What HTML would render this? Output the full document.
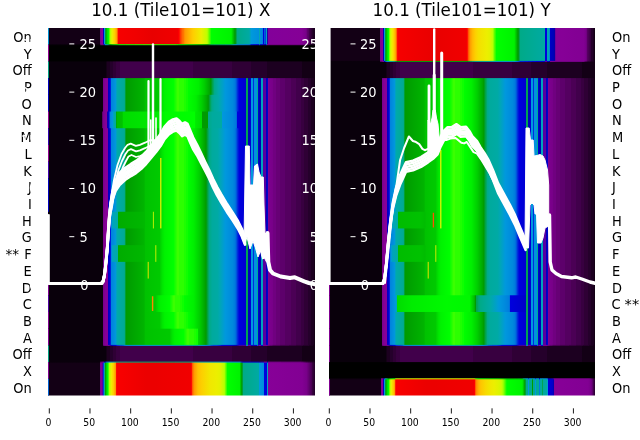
<!DOCTYPE html>
<html><head><meta charset="utf-8"><title>10.1 (Tile101=101)</title>
<style>html,body{margin:0;padding:0;background:#fff;width:640px;height:440px;overflow:hidden}svg{display:block;will-change:transform}</style>
</head><body><svg width="640" height="440" viewBox="0 0 640 440" font-family="DejaVu Sans, Liberation Sans, sans-serif"><defs><linearGradient id="gLON" gradientUnits="userSpaceOnUse" x1="48.00" y1="0" x2="315.00" y2="0"><stop offset="0.0000" stop-color="#130015"/><stop offset="0.1948" stop-color="#130015"/><stop offset="0.1957" stop-color="#380040"/><stop offset="0.1966" stop-color="#79008a"/><stop offset="0.2004" stop-color="#820093"/><stop offset="0.2051" stop-color="#870098"/><stop offset="0.2060" stop-color="#58009f"/><stop offset="0.2069" stop-color="#0d00a8"/><stop offset="0.2079" stop-color="#0000bd"/><stop offset="0.2088" stop-color="#0000d5"/><stop offset="0.2097" stop-color="#0041dd"/><stop offset="0.2107" stop-color="#0082dd"/><stop offset="0.2116" stop-color="#009adb"/><stop offset="0.2125" stop-color="#00a6b7"/><stop offset="0.2135" stop-color="#00aa98"/><stop offset="0.2163" stop-color="#009a00"/><stop offset="0.2228" stop-color="#00e200"/><stop offset="0.2275" stop-color="#00ff00"/><stop offset="0.2285" stop-color="#2cff00"/><stop offset="0.2303" stop-color="#67ff00"/><stop offset="0.2313" stop-color="#75ff00"/><stop offset="0.2331" stop-color="#b0ff00"/><stop offset="0.2369" stop-color="#d4f700"/><stop offset="0.2406" stop-color="#ecef00"/><stop offset="0.2500" stop-color="#ffcd00"/><stop offset="0.2566" stop-color="#ffa500"/><stop offset="0.2575" stop-color="#ff9d00"/><stop offset="0.2584" stop-color="#ff8d00"/><stop offset="0.2640" stop-color="#fe0000"/><stop offset="0.2669" stop-color="#f60000"/><stop offset="0.3277" stop-color="#f10000"/><stop offset="0.3904" stop-color="#e90000"/><stop offset="0.4850" stop-color="#f10000"/><stop offset="0.4897" stop-color="#fe0000"/><stop offset="0.4906" stop-color="#ff0900"/><stop offset="0.4916" stop-color="#ff0900"/><stop offset="0.4953" stop-color="#ff3900"/><stop offset="0.4963" stop-color="#ff3900"/><stop offset="0.4972" stop-color="#ff4500"/><stop offset="0.4981" stop-color="#ff4500"/><stop offset="0.4991" stop-color="#ff5100"/><stop offset="0.5009" stop-color="#ff5100"/><stop offset="0.5019" stop-color="#ff5d00"/><stop offset="0.5028" stop-color="#ff5d00"/><stop offset="0.5037" stop-color="#ff6900"/><stop offset="0.5047" stop-color="#ff6900"/><stop offset="0.5056" stop-color="#ff7500"/><stop offset="0.5075" stop-color="#ff7500"/><stop offset="0.5084" stop-color="#ff8100"/><stop offset="0.5094" stop-color="#ff8100"/><stop offset="0.5103" stop-color="#ff8d00"/><stop offset="0.5112" stop-color="#ff8d00"/><stop offset="0.5122" stop-color="#ff9900"/><stop offset="0.5159" stop-color="#ff9d00"/><stop offset="0.5197" stop-color="#ffa500"/><stop offset="0.5309" stop-color="#ffb900"/><stop offset="0.5431" stop-color="#ffcd00"/><stop offset="0.5740" stop-color="#ecef00"/><stop offset="0.5815" stop-color="#dcf400"/><stop offset="0.5918" stop-color="#c8fb00"/><stop offset="0.5964" stop-color="#bcff00"/><stop offset="0.6002" stop-color="#84ff00"/><stop offset="0.6011" stop-color="#84ff00"/><stop offset="0.6039" stop-color="#58ff00"/><stop offset="0.6049" stop-color="#58ff00"/><stop offset="0.6077" stop-color="#2cff00"/><stop offset="0.6086" stop-color="#2cff00"/><stop offset="0.6114" stop-color="#00ff00"/><stop offset="0.6863" stop-color="#00f200"/><stop offset="0.6985" stop-color="#00a400"/><stop offset="0.7004" stop-color="#009c00"/><stop offset="0.7022" stop-color="#009b13"/><stop offset="0.7032" stop-color="#009e28"/><stop offset="0.7041" stop-color="#009f33"/><stop offset="0.7051" stop-color="#00a248"/><stop offset="0.7060" stop-color="#00a353"/><stop offset="0.7069" stop-color="#00a668"/><stop offset="0.7079" stop-color="#00a773"/><stop offset="0.7088" stop-color="#00aa88"/><stop offset="0.7537" stop-color="#00aaa3"/><stop offset="0.7612" stop-color="#009adb"/><stop offset="0.7912" stop-color="#008ddd"/><stop offset="0.7921" stop-color="#00a7b3"/><stop offset="0.7949" stop-color="#00a7b3"/><stop offset="0.7959" stop-color="#008ddd"/><stop offset="0.8015" stop-color="#0085dd"/><stop offset="0.8062" stop-color="#007add"/><stop offset="0.8071" stop-color="#0000dd"/><stop offset="0.8099" stop-color="#0000dd"/><stop offset="0.8109" stop-color="#005ddd"/><stop offset="0.8118" stop-color="#005ddd"/><stop offset="0.8146" stop-color="#0041dd"/><stop offset="0.8155" stop-color="#0041dd"/><stop offset="0.8165" stop-color="#00a3bf"/><stop offset="0.8193" stop-color="#00a3bf"/><stop offset="0.8202" stop-color="#0000c1"/><stop offset="0.8212" stop-color="#0000b1"/><stop offset="0.8221" stop-color="#2300a6"/><stop offset="0.8230" stop-color="#4d00a0"/><stop offset="0.8249" stop-color="#78009b"/><stop offset="0.8258" stop-color="#83009a"/><stop offset="0.9504" stop-color="#850096"/><stop offset="0.9672" stop-color="#770088"/><stop offset="0.9682" stop-color="#700080"/><stop offset="0.9691" stop-color="#700080"/><stop offset="0.9700" stop-color="#670075"/><stop offset="0.9710" stop-color="#670075"/><stop offset="0.9719" stop-color="#5d006b"/><stop offset="0.9728" stop-color="#5d006b"/><stop offset="0.9738" stop-color="#540060"/><stop offset="0.9757" stop-color="#540060"/><stop offset="0.9766" stop-color="#4b0055"/><stop offset="0.9785" stop-color="#4b0055"/><stop offset="0.9794" stop-color="#41004b"/><stop offset="0.9822" stop-color="#41004b"/><stop offset="0.9831" stop-color="#380040"/><stop offset="0.9850" stop-color="#380040"/><stop offset="0.9860" stop-color="#2f0035"/><stop offset="0.9888" stop-color="#2f0035"/><stop offset="0.9897" stop-color="#25002b"/><stop offset="0.9916" stop-color="#25002b"/><stop offset="0.9925" stop-color="#1c0020"/><stop offset="0.9981" stop-color="#1c0020"/><stop offset="0.9991" stop-color="#130015"/><stop offset="1.0000" stop-color="#130015"/></linearGradient><linearGradient id="gLBLK" gradientUnits="userSpaceOnUse" x1="48.00" y1="0" x2="315.00" y2="0"><stop offset="0.0000" stop-color="#000000"/><stop offset="1.0000" stop-color="#000000"/></linearGradient><linearGradient id="gLOFF" gradientUnits="userSpaceOnUse" x1="48.00" y1="0" x2="315.00" y2="0"><stop offset="0.0000" stop-color="#09000b"/><stop offset="0.2163" stop-color="#09000b"/><stop offset="0.2172" stop-color="#130015"/><stop offset="0.2210" stop-color="#130015"/><stop offset="0.2219" stop-color="#1c0020"/><stop offset="0.2322" stop-color="#1c0020"/><stop offset="0.2331" stop-color="#25002b"/><stop offset="0.2425" stop-color="#25002b"/><stop offset="0.2434" stop-color="#2f0035"/><stop offset="0.2556" stop-color="#2f0035"/><stop offset="0.2566" stop-color="#380040"/><stop offset="0.2687" stop-color="#380040"/><stop offset="0.2697" stop-color="#41004b"/><stop offset="0.5412" stop-color="#41004b"/><stop offset="0.5421" stop-color="#380040"/><stop offset="0.6891" stop-color="#380040"/><stop offset="0.6901" stop-color="#2f0035"/><stop offset="0.7603" stop-color="#2f0035"/><stop offset="0.7612" stop-color="#25002b"/><stop offset="0.8193" stop-color="#25002b"/><stop offset="0.8202" stop-color="#1c0020"/><stop offset="0.9494" stop-color="#1c0020"/><stop offset="0.9504" stop-color="#130015"/><stop offset="1.0000" stop-color="#130015"/></linearGradient><linearGradient id="gLGAP" gradientUnits="userSpaceOnUse" x1="48.00" y1="0" x2="315.00" y2="0"><stop offset="0.0000" stop-color="#09000b"/><stop offset="0.2041" stop-color="#09000b"/><stop offset="0.2060" stop-color="#770088"/><stop offset="0.2144" stop-color="#850096"/><stop offset="0.2238" stop-color="#870098"/><stop offset="0.2247" stop-color="#4300a2"/><stop offset="0.2257" stop-color="#0000b5"/><stop offset="0.2266" stop-color="#0000c1"/><stop offset="0.2331" stop-color="#0000dd"/><stop offset="0.2341" stop-color="#001cdd"/><stop offset="0.2350" stop-color="#004bdd"/><stop offset="0.2360" stop-color="#0070dd"/><stop offset="0.2369" stop-color="#0082dd"/><stop offset="0.2547" stop-color="#0098dd"/><stop offset="0.2575" stop-color="#00a8af"/><stop offset="0.2603" stop-color="#00aaa8"/><stop offset="0.2846" stop-color="#00aa95"/><stop offset="0.2865" stop-color="#00aa8b"/><stop offset="0.2912" stop-color="#009d1d"/><stop offset="0.2921" stop-color="#009a00"/><stop offset="0.3596" stop-color="#00b400"/><stop offset="0.3652" stop-color="#00c200"/><stop offset="0.4176" stop-color="#00ca00"/><stop offset="0.4279" stop-color="#00e400"/><stop offset="0.4373" stop-color="#00f200"/><stop offset="0.4700" stop-color="#00ff00"/><stop offset="0.4710" stop-color="#0fff00"/><stop offset="0.4747" stop-color="#0fff00"/><stop offset="0.4757" stop-color="#1dff00"/><stop offset="0.4785" stop-color="#1dff00"/><stop offset="0.4794" stop-color="#2cff00"/><stop offset="0.4822" stop-color="#2cff00"/><stop offset="0.4831" stop-color="#3bff00"/><stop offset="0.4916" stop-color="#3bff00"/><stop offset="0.4925" stop-color="#2cff00"/><stop offset="0.5075" stop-color="#2cff00"/><stop offset="0.5084" stop-color="#1dff00"/><stop offset="0.5150" stop-color="#1dff00"/><stop offset="0.5159" stop-color="#0fff00"/><stop offset="0.5225" stop-color="#0fff00"/><stop offset="0.5234" stop-color="#00ff00"/><stop offset="0.5637" stop-color="#00ef00"/><stop offset="0.5852" stop-color="#00cf00"/><stop offset="0.6049" stop-color="#00a700"/><stop offset="0.6096" stop-color="#009a00"/><stop offset="0.6180" stop-color="#00a55d"/><stop offset="0.6189" stop-color="#00a55d"/><stop offset="0.6227" stop-color="#00aa88"/><stop offset="0.6386" stop-color="#00aaab"/><stop offset="0.6536" stop-color="#00a0c7"/><stop offset="0.6639" stop-color="#0098dd"/><stop offset="0.6919" stop-color="#0088dd"/><stop offset="0.7013" stop-color="#0078dd"/><stop offset="0.7051" stop-color="#0054dd"/><stop offset="0.7060" stop-color="#0054dd"/><stop offset="0.7097" stop-color="#002fdd"/><stop offset="0.7107" stop-color="#002fdd"/><stop offset="0.7144" stop-color="#0009dd"/><stop offset="0.7154" stop-color="#0009dd"/><stop offset="0.7163" stop-color="#0000dd"/><stop offset="0.7275" stop-color="#0000d9"/><stop offset="0.7313" stop-color="#0000d5"/><stop offset="0.7369" stop-color="#0000d5"/><stop offset="0.7406" stop-color="#0000d1"/><stop offset="0.7416" stop-color="#0000dd"/><stop offset="0.7425" stop-color="#0000dd"/><stop offset="0.7434" stop-color="#00a353"/><stop offset="0.7500" stop-color="#00a353"/><stop offset="0.7509" stop-color="#0000bd"/><stop offset="0.7575" stop-color="#0000bd"/><stop offset="0.7584" stop-color="#0000d1"/><stop offset="0.7594" stop-color="#0000d1"/><stop offset="0.7603" stop-color="#0098dd"/><stop offset="0.7669" stop-color="#0098dd"/><stop offset="0.7678" stop-color="#002fdd"/><stop offset="0.7706" stop-color="#002fdd"/><stop offset="0.7715" stop-color="#0092dd"/><stop offset="0.7818" stop-color="#0092dd"/><stop offset="0.7828" stop-color="#00aa95"/><stop offset="0.7875" stop-color="#00aa95"/><stop offset="0.7884" stop-color="#0000cd"/><stop offset="0.7893" stop-color="#0000cd"/><stop offset="0.7903" stop-color="#0000b1"/><stop offset="0.7968" stop-color="#0000b1"/><stop offset="0.7978" stop-color="#00a3bf"/><stop offset="0.8043" stop-color="#00a3bf"/><stop offset="0.8052" stop-color="#0000c9"/><stop offset="0.8062" stop-color="#0000c9"/><stop offset="0.8071" stop-color="#58009f"/><stop offset="0.8155" stop-color="#58009f"/><stop offset="0.8165" stop-color="#0000c9"/><stop offset="0.8174" stop-color="#0000c9"/><stop offset="0.8184" stop-color="#0000bd"/><stop offset="0.8212" stop-color="#0000bd"/><stop offset="0.8221" stop-color="#0000c9"/><stop offset="0.8240" stop-color="#0000c9"/><stop offset="0.8249" stop-color="#850096"/><stop offset="0.8268" stop-color="#7d008e"/><stop offset="0.8418" stop-color="#770088"/><stop offset="0.8427" stop-color="#700080"/><stop offset="0.8521" stop-color="#700080"/><stop offset="0.8530" stop-color="#670075"/><stop offset="0.8689" stop-color="#670075"/><stop offset="0.8699" stop-color="#5d006b"/><stop offset="0.8886" stop-color="#5d006b"/><stop offset="0.8895" stop-color="#540060"/><stop offset="0.9101" stop-color="#540060"/><stop offset="0.9110" stop-color="#4b0055"/><stop offset="0.9279" stop-color="#4b0055"/><stop offset="0.9288" stop-color="#41004b"/><stop offset="0.9466" stop-color="#41004b"/><stop offset="0.9476" stop-color="#380040"/><stop offset="0.9597" stop-color="#380040"/><stop offset="0.9607" stop-color="#2f0035"/><stop offset="0.9728" stop-color="#2f0035"/><stop offset="0.9738" stop-color="#25002b"/><stop offset="0.9850" stop-color="#25002b"/><stop offset="0.9860" stop-color="#1c0020"/><stop offset="0.9963" stop-color="#1c0020"/><stop offset="0.9972" stop-color="#130015"/><stop offset="1.0000" stop-color="#130015"/></linearGradient><linearGradient id="gLGAO" gradientUnits="userSpaceOnUse" x1="48.00" y1="0" x2="315.00" y2="0"><stop offset="0.0000" stop-color="#09000b"/><stop offset="0.2041" stop-color="#09000b"/><stop offset="0.2060" stop-color="#770088"/><stop offset="0.2144" stop-color="#850096"/><stop offset="0.2238" stop-color="#870098"/><stop offset="0.2247" stop-color="#4300a2"/><stop offset="0.2257" stop-color="#0000b5"/><stop offset="0.2266" stop-color="#0000c1"/><stop offset="0.2331" stop-color="#0000dd"/><stop offset="0.2341" stop-color="#001cdd"/><stop offset="0.2350" stop-color="#004bdd"/><stop offset="0.2360" stop-color="#0070dd"/><stop offset="0.2369" stop-color="#0082dd"/><stop offset="0.2547" stop-color="#0098dd"/><stop offset="0.2575" stop-color="#00a8af"/><stop offset="0.2603" stop-color="#00aaa8"/><stop offset="0.2846" stop-color="#00aa95"/><stop offset="0.2865" stop-color="#00aa8b"/><stop offset="0.2912" stop-color="#009d1d"/><stop offset="0.2921" stop-color="#009a00"/><stop offset="0.3596" stop-color="#00b400"/><stop offset="0.3652" stop-color="#00c200"/><stop offset="0.4176" stop-color="#00ca00"/><stop offset="0.4279" stop-color="#00e400"/><stop offset="0.4373" stop-color="#00f200"/><stop offset="0.4700" stop-color="#00ff00"/><stop offset="0.4710" stop-color="#0fff00"/><stop offset="0.4747" stop-color="#0fff00"/><stop offset="0.4757" stop-color="#1dff00"/><stop offset="0.4785" stop-color="#1dff00"/><stop offset="0.4794" stop-color="#2cff00"/><stop offset="0.4822" stop-color="#2cff00"/><stop offset="0.4831" stop-color="#3bff00"/><stop offset="0.4916" stop-color="#3bff00"/><stop offset="0.4925" stop-color="#2cff00"/><stop offset="0.5075" stop-color="#2cff00"/><stop offset="0.5084" stop-color="#1dff00"/><stop offset="0.5150" stop-color="#1dff00"/><stop offset="0.5159" stop-color="#0fff00"/><stop offset="0.5225" stop-color="#0fff00"/><stop offset="0.5234" stop-color="#00ff00"/><stop offset="0.5543" stop-color="#00ef00"/><stop offset="0.5758" stop-color="#00cf00"/><stop offset="0.5955" stop-color="#00a700"/><stop offset="0.6002" stop-color="#009a00"/><stop offset="0.6086" stop-color="#00a55d"/><stop offset="0.6096" stop-color="#00a55d"/><stop offset="0.6133" stop-color="#00aa88"/><stop offset="0.6236" stop-color="#00aa9d"/><stop offset="0.6376" stop-color="#00aaa8"/><stop offset="0.6451" stop-color="#00a6b7"/><stop offset="0.6639" stop-color="#0098dd"/><stop offset="0.6919" stop-color="#0088dd"/><stop offset="0.7013" stop-color="#0078dd"/><stop offset="0.7051" stop-color="#0054dd"/><stop offset="0.7060" stop-color="#0054dd"/><stop offset="0.7097" stop-color="#002fdd"/><stop offset="0.7107" stop-color="#002fdd"/><stop offset="0.7144" stop-color="#0009dd"/><stop offset="0.7154" stop-color="#0009dd"/><stop offset="0.7163" stop-color="#0000dd"/><stop offset="0.7275" stop-color="#0000d9"/><stop offset="0.7313" stop-color="#0000d5"/><stop offset="0.7369" stop-color="#0000d5"/><stop offset="0.7406" stop-color="#0000d1"/><stop offset="0.7416" stop-color="#0000dd"/><stop offset="0.7425" stop-color="#0000dd"/><stop offset="0.7434" stop-color="#00a353"/><stop offset="0.7500" stop-color="#00a353"/><stop offset="0.7509" stop-color="#0000bd"/><stop offset="0.7575" stop-color="#0000bd"/><stop offset="0.7584" stop-color="#0000d1"/><stop offset="0.7594" stop-color="#0000d1"/><stop offset="0.7603" stop-color="#0098dd"/><stop offset="0.7669" stop-color="#0098dd"/><stop offset="0.7678" stop-color="#002fdd"/><stop offset="0.7706" stop-color="#002fdd"/><stop offset="0.7715" stop-color="#0092dd"/><stop offset="0.7818" stop-color="#0092dd"/><stop offset="0.7828" stop-color="#00aa95"/><stop offset="0.7875" stop-color="#00aa95"/><stop offset="0.7884" stop-color="#0000cd"/><stop offset="0.7893" stop-color="#0000cd"/><stop offset="0.7903" stop-color="#0000b1"/><stop offset="0.7968" stop-color="#0000b1"/><stop offset="0.7978" stop-color="#00a3bf"/><stop offset="0.8043" stop-color="#00a3bf"/><stop offset="0.8052" stop-color="#0000c9"/><stop offset="0.8062" stop-color="#0000c9"/><stop offset="0.8071" stop-color="#58009f"/><stop offset="0.8155" stop-color="#58009f"/><stop offset="0.8165" stop-color="#0000c9"/><stop offset="0.8174" stop-color="#0000c9"/><stop offset="0.8184" stop-color="#0000bd"/><stop offset="0.8212" stop-color="#0000bd"/><stop offset="0.8221" stop-color="#0000c9"/><stop offset="0.8240" stop-color="#0000c9"/><stop offset="0.8249" stop-color="#850096"/><stop offset="0.8268" stop-color="#7d008e"/><stop offset="0.8418" stop-color="#770088"/><stop offset="0.8427" stop-color="#700080"/><stop offset="0.8521" stop-color="#700080"/><stop offset="0.8530" stop-color="#670075"/><stop offset="0.8689" stop-color="#670075"/><stop offset="0.8699" stop-color="#5d006b"/><stop offset="0.8886" stop-color="#5d006b"/><stop offset="0.8895" stop-color="#540060"/><stop offset="0.9101" stop-color="#540060"/><stop offset="0.9110" stop-color="#4b0055"/><stop offset="0.9279" stop-color="#4b0055"/><stop offset="0.9288" stop-color="#41004b"/><stop offset="0.9466" stop-color="#41004b"/><stop offset="0.9476" stop-color="#380040"/><stop offset="0.9597" stop-color="#380040"/><stop offset="0.9607" stop-color="#2f0035"/><stop offset="0.9728" stop-color="#2f0035"/><stop offset="0.9738" stop-color="#25002b"/><stop offset="0.9850" stop-color="#25002b"/><stop offset="0.9860" stop-color="#1c0020"/><stop offset="0.9963" stop-color="#1c0020"/><stop offset="0.9972" stop-color="#130015"/><stop offset="1.0000" stop-color="#130015"/></linearGradient><linearGradient id="gLGN" gradientUnits="userSpaceOnUse" x1="48.00" y1="0" x2="315.00" y2="0"><stop offset="0.0000" stop-color="#09000b"/><stop offset="0.2004" stop-color="#09000b"/><stop offset="0.2013" stop-color="#130015"/><stop offset="0.2022" stop-color="#25002b"/><stop offset="0.2041" stop-color="#5d006b"/><stop offset="0.2051" stop-color="#700080"/><stop offset="0.2060" stop-color="#7a008b"/><stop offset="0.2172" stop-color="#860097"/><stop offset="0.2219" stop-color="#870098"/><stop offset="0.2228" stop-color="#0d00a8"/><stop offset="0.2238" stop-color="#0000c1"/><stop offset="0.2294" stop-color="#0000d9"/><stop offset="0.2313" stop-color="#0080dd"/><stop offset="0.2360" stop-color="#008ddd"/><stop offset="0.2434" stop-color="#0098dd"/><stop offset="0.2463" stop-color="#00a8af"/><stop offset="0.2472" stop-color="#00aaa8"/><stop offset="0.2547" stop-color="#00aa9d"/><stop offset="0.2556" stop-color="#00a773"/><stop offset="0.2566" stop-color="#00aa00"/><stop offset="0.2575" stop-color="#00bc00"/><stop offset="0.2781" stop-color="#00c200"/><stop offset="0.2818" stop-color="#00dc00"/><stop offset="0.4204" stop-color="#00ec00"/><stop offset="0.4401" stop-color="#00fa00"/><stop offset="0.5506" stop-color="#00ff00"/><stop offset="0.5515" stop-color="#00ef00"/><stop offset="0.5534" stop-color="#00ea00"/><stop offset="0.5768" stop-color="#00dc00"/><stop offset="0.5777" stop-color="#00a400"/><stop offset="0.5787" stop-color="#009a00"/><stop offset="0.5993" stop-color="#009a00"/><stop offset="0.6002" stop-color="#00a773"/><stop offset="0.6011" stop-color="#00aa8b"/><stop offset="0.6161" stop-color="#00aa9d"/><stop offset="0.6517" stop-color="#00aaa3"/><stop offset="0.6526" stop-color="#009cd3"/><stop offset="0.6536" stop-color="#0098dd"/><stop offset="0.6919" stop-color="#0088dd"/><stop offset="0.7032" stop-color="#0078dd"/><stop offset="0.7051" stop-color="#0067dd"/><stop offset="0.7060" stop-color="#0067dd"/><stop offset="0.7069" stop-color="#005ddd"/><stop offset="0.7079" stop-color="#005ddd"/><stop offset="0.7088" stop-color="#0009dd"/><stop offset="0.7097" stop-color="#0000dd"/><stop offset="0.7172" stop-color="#0000d9"/><stop offset="0.7238" stop-color="#0000d9"/><stop offset="0.7275" stop-color="#0000d5"/><stop offset="0.7360" stop-color="#0000d5"/><stop offset="0.7397" stop-color="#0000d1"/><stop offset="0.7406" stop-color="#0000d1"/><stop offset="0.7416" stop-color="#0000dd"/><stop offset="0.7425" stop-color="#0000dd"/><stop offset="0.7434" stop-color="#00a353"/><stop offset="0.7500" stop-color="#00a353"/><stop offset="0.7509" stop-color="#0000bd"/><stop offset="0.7575" stop-color="#0000bd"/><stop offset="0.7584" stop-color="#0000d1"/><stop offset="0.7594" stop-color="#0000d1"/><stop offset="0.7603" stop-color="#0098dd"/><stop offset="0.7669" stop-color="#0098dd"/><stop offset="0.7678" stop-color="#002fdd"/><stop offset="0.7706" stop-color="#002fdd"/><stop offset="0.7715" stop-color="#0092dd"/><stop offset="0.7818" stop-color="#0092dd"/><stop offset="0.7828" stop-color="#00aa95"/><stop offset="0.7875" stop-color="#00aa95"/><stop offset="0.7884" stop-color="#0000cd"/><stop offset="0.7893" stop-color="#0000cd"/><stop offset="0.7903" stop-color="#0000b1"/><stop offset="0.7968" stop-color="#0000b1"/><stop offset="0.7978" stop-color="#00a3bf"/><stop offset="0.8043" stop-color="#00a3bf"/><stop offset="0.8052" stop-color="#0000c9"/><stop offset="0.8062" stop-color="#0000c9"/><stop offset="0.8071" stop-color="#58009f"/><stop offset="0.8155" stop-color="#58009f"/><stop offset="0.8165" stop-color="#0000c9"/><stop offset="0.8174" stop-color="#0000c9"/><stop offset="0.8184" stop-color="#0000bd"/><stop offset="0.8212" stop-color="#0000bd"/><stop offset="0.8221" stop-color="#0000c9"/><stop offset="0.8240" stop-color="#0000c9"/><stop offset="0.8249" stop-color="#850096"/><stop offset="0.8268" stop-color="#7d008e"/><stop offset="0.8418" stop-color="#770088"/><stop offset="0.8427" stop-color="#700080"/><stop offset="0.8521" stop-color="#700080"/><stop offset="0.8530" stop-color="#670075"/><stop offset="0.8689" stop-color="#670075"/><stop offset="0.8699" stop-color="#5d006b"/><stop offset="0.8886" stop-color="#5d006b"/><stop offset="0.8895" stop-color="#540060"/><stop offset="0.9101" stop-color="#540060"/><stop offset="0.9110" stop-color="#4b0055"/><stop offset="0.9279" stop-color="#4b0055"/><stop offset="0.9288" stop-color="#41004b"/><stop offset="0.9466" stop-color="#41004b"/><stop offset="0.9476" stop-color="#380040"/><stop offset="0.9597" stop-color="#380040"/><stop offset="0.9607" stop-color="#2f0035"/><stop offset="0.9728" stop-color="#2f0035"/><stop offset="0.9738" stop-color="#25002b"/><stop offset="0.9850" stop-color="#25002b"/><stop offset="0.9860" stop-color="#1c0020"/><stop offset="0.9963" stop-color="#1c0020"/><stop offset="0.9972" stop-color="#130015"/><stop offset="1.0000" stop-color="#130015"/></linearGradient><linearGradient id="gLGA" gradientUnits="userSpaceOnUse" x1="48.00" y1="0" x2="315.00" y2="0"><stop offset="0.0000" stop-color="#09000b"/><stop offset="0.2041" stop-color="#09000b"/><stop offset="0.2060" stop-color="#770088"/><stop offset="0.2144" stop-color="#850096"/><stop offset="0.2238" stop-color="#870098"/><stop offset="0.2247" stop-color="#4300a2"/><stop offset="0.2257" stop-color="#0000b5"/><stop offset="0.2266" stop-color="#0000c1"/><stop offset="0.2331" stop-color="#0000dd"/><stop offset="0.2341" stop-color="#001cdd"/><stop offset="0.2350" stop-color="#004bdd"/><stop offset="0.2360" stop-color="#0070dd"/><stop offset="0.2369" stop-color="#0082dd"/><stop offset="0.2547" stop-color="#0098dd"/><stop offset="0.2575" stop-color="#00a8af"/><stop offset="0.2603" stop-color="#00aaa8"/><stop offset="0.2846" stop-color="#00aa95"/><stop offset="0.2865" stop-color="#00aa8b"/><stop offset="0.2912" stop-color="#009d1d"/><stop offset="0.2921" stop-color="#009a00"/><stop offset="0.3596" stop-color="#00b400"/><stop offset="0.3652" stop-color="#00c200"/><stop offset="0.4176" stop-color="#00ca00"/><stop offset="0.4279" stop-color="#00e400"/><stop offset="0.4373" stop-color="#00f200"/><stop offset="0.4700" stop-color="#00ff00"/><stop offset="0.4710" stop-color="#0fff00"/><stop offset="0.4747" stop-color="#0fff00"/><stop offset="0.4757" stop-color="#1dff00"/><stop offset="0.4785" stop-color="#1dff00"/><stop offset="0.4794" stop-color="#2cff00"/><stop offset="0.4822" stop-color="#2cff00"/><stop offset="0.4831" stop-color="#3bff00"/><stop offset="0.4916" stop-color="#3bff00"/><stop offset="0.4925" stop-color="#2cff00"/><stop offset="0.5075" stop-color="#2cff00"/><stop offset="0.5084" stop-color="#1dff00"/><stop offset="0.5150" stop-color="#1dff00"/><stop offset="0.5159" stop-color="#0fff00"/><stop offset="0.5225" stop-color="#0fff00"/><stop offset="0.5234" stop-color="#00ff00"/><stop offset="0.5459" stop-color="#00ef00"/><stop offset="0.5674" stop-color="#00cf00"/><stop offset="0.5899" stop-color="#009f00"/><stop offset="0.5918" stop-color="#009a00"/><stop offset="0.6011" stop-color="#00a668"/><stop offset="0.6021" stop-color="#00a668"/><stop offset="0.6049" stop-color="#00aa88"/><stop offset="0.6152" stop-color="#00aa9d"/><stop offset="0.6358" stop-color="#00aaa5"/><stop offset="0.6451" stop-color="#00a6b7"/><stop offset="0.6639" stop-color="#0098dd"/><stop offset="0.6919" stop-color="#0088dd"/><stop offset="0.7013" stop-color="#0078dd"/><stop offset="0.7051" stop-color="#0054dd"/><stop offset="0.7060" stop-color="#0054dd"/><stop offset="0.7097" stop-color="#002fdd"/><stop offset="0.7107" stop-color="#002fdd"/><stop offset="0.7144" stop-color="#0009dd"/><stop offset="0.7154" stop-color="#0009dd"/><stop offset="0.7163" stop-color="#0000dd"/><stop offset="0.7275" stop-color="#0000d9"/><stop offset="0.7313" stop-color="#0000d5"/><stop offset="0.7369" stop-color="#0000d5"/><stop offset="0.7406" stop-color="#0000d1"/><stop offset="0.7416" stop-color="#0000dd"/><stop offset="0.7425" stop-color="#0000dd"/><stop offset="0.7434" stop-color="#00a353"/><stop offset="0.7500" stop-color="#00a353"/><stop offset="0.7509" stop-color="#0000bd"/><stop offset="0.7575" stop-color="#0000bd"/><stop offset="0.7584" stop-color="#0000d1"/><stop offset="0.7594" stop-color="#0000d1"/><stop offset="0.7603" stop-color="#0098dd"/><stop offset="0.7669" stop-color="#0098dd"/><stop offset="0.7678" stop-color="#002fdd"/><stop offset="0.7706" stop-color="#002fdd"/><stop offset="0.7715" stop-color="#0092dd"/><stop offset="0.7818" stop-color="#0092dd"/><stop offset="0.7828" stop-color="#00aa95"/><stop offset="0.7875" stop-color="#00aa95"/><stop offset="0.7884" stop-color="#0000cd"/><stop offset="0.7893" stop-color="#0000cd"/><stop offset="0.7903" stop-color="#0000b1"/><stop offset="0.7968" stop-color="#0000b1"/><stop offset="0.7978" stop-color="#00a3bf"/><stop offset="0.8043" stop-color="#00a3bf"/><stop offset="0.8052" stop-color="#0000c9"/><stop offset="0.8062" stop-color="#0000c9"/><stop offset="0.8071" stop-color="#58009f"/><stop offset="0.8155" stop-color="#58009f"/><stop offset="0.8165" stop-color="#0000c9"/><stop offset="0.8174" stop-color="#0000c9"/><stop offset="0.8184" stop-color="#0000bd"/><stop offset="0.8212" stop-color="#0000bd"/><stop offset="0.8221" stop-color="#0000c9"/><stop offset="0.8240" stop-color="#0000c9"/><stop offset="0.8249" stop-color="#850096"/><stop offset="0.8268" stop-color="#7d008e"/><stop offset="0.8418" stop-color="#770088"/><stop offset="0.8427" stop-color="#700080"/><stop offset="0.8521" stop-color="#700080"/><stop offset="0.8530" stop-color="#670075"/><stop offset="0.8689" stop-color="#670075"/><stop offset="0.8699" stop-color="#5d006b"/><stop offset="0.8886" stop-color="#5d006b"/><stop offset="0.8895" stop-color="#540060"/><stop offset="0.9101" stop-color="#540060"/><stop offset="0.9110" stop-color="#4b0055"/><stop offset="0.9279" stop-color="#4b0055"/><stop offset="0.9288" stop-color="#41004b"/><stop offset="0.9466" stop-color="#41004b"/><stop offset="0.9476" stop-color="#380040"/><stop offset="0.9597" stop-color="#380040"/><stop offset="0.9607" stop-color="#2f0035"/><stop offset="0.9728" stop-color="#2f0035"/><stop offset="0.9738" stop-color="#25002b"/><stop offset="0.9850" stop-color="#25002b"/><stop offset="0.9860" stop-color="#1c0020"/><stop offset="0.9963" stop-color="#1c0020"/><stop offset="0.9972" stop-color="#130015"/><stop offset="1.0000" stop-color="#130015"/></linearGradient><linearGradient id="gLGB" gradientUnits="userSpaceOnUse" x1="48.00" y1="0" x2="315.00" y2="0"><stop offset="0.0000" stop-color="#09000b"/><stop offset="0.2041" stop-color="#09000b"/><stop offset="0.2060" stop-color="#770088"/><stop offset="0.2144" stop-color="#850096"/><stop offset="0.2238" stop-color="#870098"/><stop offset="0.2247" stop-color="#4300a2"/><stop offset="0.2257" stop-color="#0000b5"/><stop offset="0.2266" stop-color="#0000c1"/><stop offset="0.2331" stop-color="#0000dd"/><stop offset="0.2341" stop-color="#001cdd"/><stop offset="0.2350" stop-color="#004bdd"/><stop offset="0.2360" stop-color="#0070dd"/><stop offset="0.2369" stop-color="#0082dd"/><stop offset="0.2388" stop-color="#0092dd"/><stop offset="0.2406" stop-color="#009fcb"/><stop offset="0.2416" stop-color="#00a3bf"/><stop offset="0.2584" stop-color="#00aaa8"/><stop offset="0.2622" stop-color="#00aaa5"/><stop offset="0.2631" stop-color="#00aa95"/><stop offset="0.2640" stop-color="#00ac00"/><stop offset="0.3539" stop-color="#00b700"/><stop offset="0.3642" stop-color="#00ba00"/><stop offset="0.3652" stop-color="#00c200"/><stop offset="0.4176" stop-color="#00ca00"/><stop offset="0.4279" stop-color="#00e400"/><stop offset="0.4373" stop-color="#00f200"/><stop offset="0.4700" stop-color="#00ff00"/><stop offset="0.4710" stop-color="#0fff00"/><stop offset="0.4747" stop-color="#0fff00"/><stop offset="0.4757" stop-color="#1dff00"/><stop offset="0.4785" stop-color="#1dff00"/><stop offset="0.4794" stop-color="#2cff00"/><stop offset="0.4822" stop-color="#2cff00"/><stop offset="0.4831" stop-color="#3bff00"/><stop offset="0.4916" stop-color="#3bff00"/><stop offset="0.4925" stop-color="#2cff00"/><stop offset="0.5075" stop-color="#2cff00"/><stop offset="0.5084" stop-color="#1dff00"/><stop offset="0.5150" stop-color="#1dff00"/><stop offset="0.5159" stop-color="#0fff00"/><stop offset="0.5225" stop-color="#0fff00"/><stop offset="0.5234" stop-color="#00ff00"/><stop offset="0.5459" stop-color="#00ef00"/><stop offset="0.5674" stop-color="#00cf00"/><stop offset="0.5899" stop-color="#009f00"/><stop offset="0.5918" stop-color="#009a00"/><stop offset="0.6011" stop-color="#00a668"/><stop offset="0.6021" stop-color="#00a668"/><stop offset="0.6049" stop-color="#00aa88"/><stop offset="0.6152" stop-color="#00aa9d"/><stop offset="0.6358" stop-color="#00aaa5"/><stop offset="0.6451" stop-color="#00a6b7"/><stop offset="0.6639" stop-color="#0098dd"/><stop offset="0.6919" stop-color="#0088dd"/><stop offset="0.7013" stop-color="#0078dd"/><stop offset="0.7051" stop-color="#0054dd"/><stop offset="0.7060" stop-color="#0054dd"/><stop offset="0.7097" stop-color="#002fdd"/><stop offset="0.7107" stop-color="#002fdd"/><stop offset="0.7144" stop-color="#0009dd"/><stop offset="0.7154" stop-color="#0009dd"/><stop offset="0.7163" stop-color="#0000dd"/><stop offset="0.7275" stop-color="#0000d9"/><stop offset="0.7313" stop-color="#0000d5"/><stop offset="0.7369" stop-color="#0000d5"/><stop offset="0.7406" stop-color="#0000d1"/><stop offset="0.7416" stop-color="#0000dd"/><stop offset="0.7425" stop-color="#0000dd"/><stop offset="0.7434" stop-color="#00a353"/><stop offset="0.7500" stop-color="#00a353"/><stop offset="0.7509" stop-color="#0000bd"/><stop offset="0.7575" stop-color="#0000bd"/><stop offset="0.7584" stop-color="#0000d1"/><stop offset="0.7594" stop-color="#0000d1"/><stop offset="0.7603" stop-color="#0098dd"/><stop offset="0.7669" stop-color="#0098dd"/><stop offset="0.7678" stop-color="#002fdd"/><stop offset="0.7706" stop-color="#002fdd"/><stop offset="0.7715" stop-color="#0092dd"/><stop offset="0.7818" stop-color="#0092dd"/><stop offset="0.7828" stop-color="#00aa95"/><stop offset="0.7875" stop-color="#00aa95"/><stop offset="0.7884" stop-color="#0000cd"/><stop offset="0.7893" stop-color="#0000cd"/><stop offset="0.7903" stop-color="#0000b1"/><stop offset="0.7968" stop-color="#0000b1"/><stop offset="0.7978" stop-color="#00a3bf"/><stop offset="0.8043" stop-color="#00a3bf"/><stop offset="0.8052" stop-color="#0000c9"/><stop offset="0.8062" stop-color="#0000c9"/><stop offset="0.8071" stop-color="#58009f"/><stop offset="0.8155" stop-color="#58009f"/><stop offset="0.8165" stop-color="#0000c9"/><stop offset="0.8174" stop-color="#0000c9"/><stop offset="0.8184" stop-color="#0000bd"/><stop offset="0.8212" stop-color="#0000bd"/><stop offset="0.8221" stop-color="#0000c9"/><stop offset="0.8240" stop-color="#0000c9"/><stop offset="0.8249" stop-color="#850096"/><stop offset="0.8268" stop-color="#7d008e"/><stop offset="0.8418" stop-color="#770088"/><stop offset="0.8427" stop-color="#700080"/><stop offset="0.8521" stop-color="#700080"/><stop offset="0.8530" stop-color="#670075"/><stop offset="0.8689" stop-color="#670075"/><stop offset="0.8699" stop-color="#5d006b"/><stop offset="0.8886" stop-color="#5d006b"/><stop offset="0.8895" stop-color="#540060"/><stop offset="0.9101" stop-color="#540060"/><stop offset="0.9110" stop-color="#4b0055"/><stop offset="0.9279" stop-color="#4b0055"/><stop offset="0.9288" stop-color="#41004b"/><stop offset="0.9466" stop-color="#41004b"/><stop offset="0.9476" stop-color="#380040"/><stop offset="0.9597" stop-color="#380040"/><stop offset="0.9607" stop-color="#2f0035"/><stop offset="0.9728" stop-color="#2f0035"/><stop offset="0.9738" stop-color="#25002b"/><stop offset="0.9850" stop-color="#25002b"/><stop offset="0.9860" stop-color="#1c0020"/><stop offset="0.9963" stop-color="#1c0020"/><stop offset="0.9972" stop-color="#130015"/><stop offset="1.0000" stop-color="#130015"/></linearGradient><linearGradient id="gLGA3" gradientUnits="userSpaceOnUse" x1="48.00" y1="0" x2="315.00" y2="0"><stop offset="0.0000" stop-color="#09000b"/><stop offset="0.2041" stop-color="#09000b"/><stop offset="0.2060" stop-color="#770088"/><stop offset="0.2144" stop-color="#850096"/><stop offset="0.2238" stop-color="#870098"/><stop offset="0.2247" stop-color="#4300a2"/><stop offset="0.2257" stop-color="#0000b5"/><stop offset="0.2266" stop-color="#0000c1"/><stop offset="0.2331" stop-color="#0000dd"/><stop offset="0.2341" stop-color="#001cdd"/><stop offset="0.2350" stop-color="#004bdd"/><stop offset="0.2360" stop-color="#0070dd"/><stop offset="0.2369" stop-color="#0082dd"/><stop offset="0.2547" stop-color="#0098dd"/><stop offset="0.2575" stop-color="#00a8af"/><stop offset="0.2603" stop-color="#00aaa8"/><stop offset="0.2846" stop-color="#00aa95"/><stop offset="0.2865" stop-color="#00aa8b"/><stop offset="0.2912" stop-color="#009d1d"/><stop offset="0.2921" stop-color="#009a00"/><stop offset="0.3596" stop-color="#00b400"/><stop offset="0.3652" stop-color="#00c200"/><stop offset="0.4026" stop-color="#00ca00"/><stop offset="0.4129" stop-color="#00e400"/><stop offset="0.4223" stop-color="#00f200"/><stop offset="0.4551" stop-color="#00ff00"/><stop offset="0.4560" stop-color="#0fff00"/><stop offset="0.4597" stop-color="#0fff00"/><stop offset="0.4607" stop-color="#1dff00"/><stop offset="0.4635" stop-color="#1dff00"/><stop offset="0.4644" stop-color="#2cff00"/><stop offset="0.4672" stop-color="#2cff00"/><stop offset="0.4682" stop-color="#3bff00"/><stop offset="0.4766" stop-color="#3bff00"/><stop offset="0.4775" stop-color="#2cff00"/><stop offset="0.4925" stop-color="#2cff00"/><stop offset="0.4934" stop-color="#1dff00"/><stop offset="0.5000" stop-color="#1dff00"/><stop offset="0.5009" stop-color="#0fff00"/><stop offset="0.5075" stop-color="#0fff00"/><stop offset="0.5084" stop-color="#00ff00"/><stop offset="0.5459" stop-color="#00ef00"/><stop offset="0.5674" stop-color="#00cf00"/><stop offset="0.5899" stop-color="#009f00"/><stop offset="0.5918" stop-color="#009a00"/><stop offset="0.6011" stop-color="#00a668"/><stop offset="0.6021" stop-color="#00a668"/><stop offset="0.6049" stop-color="#00aa88"/><stop offset="0.6152" stop-color="#00aa9d"/><stop offset="0.6358" stop-color="#00aaa5"/><stop offset="0.6451" stop-color="#00a6b7"/><stop offset="0.6639" stop-color="#0098dd"/><stop offset="0.6919" stop-color="#0088dd"/><stop offset="0.7013" stop-color="#0078dd"/><stop offset="0.7051" stop-color="#0054dd"/><stop offset="0.7060" stop-color="#0054dd"/><stop offset="0.7097" stop-color="#002fdd"/><stop offset="0.7107" stop-color="#002fdd"/><stop offset="0.7144" stop-color="#0009dd"/><stop offset="0.7154" stop-color="#0009dd"/><stop offset="0.7163" stop-color="#0000dd"/><stop offset="0.7275" stop-color="#0000d9"/><stop offset="0.7313" stop-color="#0000d5"/><stop offset="0.7369" stop-color="#0000d5"/><stop offset="0.7406" stop-color="#0000d1"/><stop offset="0.7416" stop-color="#0000dd"/><stop offset="0.7425" stop-color="#0000dd"/><stop offset="0.7434" stop-color="#00a353"/><stop offset="0.7500" stop-color="#00a353"/><stop offset="0.7509" stop-color="#0000bd"/><stop offset="0.7575" stop-color="#0000bd"/><stop offset="0.7584" stop-color="#0000d1"/><stop offset="0.7594" stop-color="#0000d1"/><stop offset="0.7603" stop-color="#0098dd"/><stop offset="0.7669" stop-color="#0098dd"/><stop offset="0.7678" stop-color="#002fdd"/><stop offset="0.7706" stop-color="#002fdd"/><stop offset="0.7715" stop-color="#0092dd"/><stop offset="0.7818" stop-color="#0092dd"/><stop offset="0.7828" stop-color="#00aa95"/><stop offset="0.7875" stop-color="#00aa95"/><stop offset="0.7884" stop-color="#0000cd"/><stop offset="0.7893" stop-color="#0000cd"/><stop offset="0.7903" stop-color="#0000b1"/><stop offset="0.7968" stop-color="#0000b1"/><stop offset="0.7978" stop-color="#00a3bf"/><stop offset="0.8043" stop-color="#00a3bf"/><stop offset="0.8052" stop-color="#0000c9"/><stop offset="0.8062" stop-color="#0000c9"/><stop offset="0.8071" stop-color="#58009f"/><stop offset="0.8155" stop-color="#58009f"/><stop offset="0.8165" stop-color="#0000c9"/><stop offset="0.8174" stop-color="#0000c9"/><stop offset="0.8184" stop-color="#0000bd"/><stop offset="0.8212" stop-color="#0000bd"/><stop offset="0.8221" stop-color="#0000c9"/><stop offset="0.8240" stop-color="#0000c9"/><stop offset="0.8249" stop-color="#850096"/><stop offset="0.8268" stop-color="#7d008e"/><stop offset="0.8418" stop-color="#770088"/><stop offset="0.8427" stop-color="#700080"/><stop offset="0.8521" stop-color="#700080"/><stop offset="0.8530" stop-color="#670075"/><stop offset="0.8689" stop-color="#670075"/><stop offset="0.8699" stop-color="#5d006b"/><stop offset="0.8886" stop-color="#5d006b"/><stop offset="0.8895" stop-color="#540060"/><stop offset="0.9101" stop-color="#540060"/><stop offset="0.9110" stop-color="#4b0055"/><stop offset="0.9279" stop-color="#4b0055"/><stop offset="0.9288" stop-color="#41004b"/><stop offset="0.9466" stop-color="#41004b"/><stop offset="0.9476" stop-color="#380040"/><stop offset="0.9597" stop-color="#380040"/><stop offset="0.9607" stop-color="#2f0035"/><stop offset="0.9728" stop-color="#2f0035"/><stop offset="0.9738" stop-color="#25002b"/><stop offset="0.9850" stop-color="#25002b"/><stop offset="0.9860" stop-color="#1c0020"/><stop offset="0.9963" stop-color="#1c0020"/><stop offset="0.9972" stop-color="#130015"/><stop offset="1.0000" stop-color="#130015"/></linearGradient><linearGradient id="gLGA2" gradientUnits="userSpaceOnUse" x1="48.00" y1="0" x2="315.00" y2="0"><stop offset="0.0000" stop-color="#09000b"/><stop offset="0.2041" stop-color="#09000b"/><stop offset="0.2060" stop-color="#770088"/><stop offset="0.2144" stop-color="#850096"/><stop offset="0.2238" stop-color="#870098"/><stop offset="0.2247" stop-color="#4300a2"/><stop offset="0.2257" stop-color="#0000b5"/><stop offset="0.2266" stop-color="#0000c1"/><stop offset="0.2331" stop-color="#0000dd"/><stop offset="0.2341" stop-color="#001cdd"/><stop offset="0.2350" stop-color="#004bdd"/><stop offset="0.2360" stop-color="#0070dd"/><stop offset="0.2369" stop-color="#0082dd"/><stop offset="0.2547" stop-color="#0098dd"/><stop offset="0.2575" stop-color="#00a8af"/><stop offset="0.2603" stop-color="#00aaa8"/><stop offset="0.2846" stop-color="#00aa95"/><stop offset="0.2865" stop-color="#00aa8b"/><stop offset="0.2912" stop-color="#009d1d"/><stop offset="0.2921" stop-color="#009a00"/><stop offset="0.3596" stop-color="#00b400"/><stop offset="0.3652" stop-color="#00c200"/><stop offset="0.4551" stop-color="#00ca00"/><stop offset="0.4654" stop-color="#00e400"/><stop offset="0.4747" stop-color="#00f200"/><stop offset="0.5075" stop-color="#00ff00"/><stop offset="0.5084" stop-color="#0fff00"/><stop offset="0.5122" stop-color="#0fff00"/><stop offset="0.5131" stop-color="#1dff00"/><stop offset="0.5159" stop-color="#1dff00"/><stop offset="0.5169" stop-color="#2cff00"/><stop offset="0.5197" stop-color="#2cff00"/><stop offset="0.5206" stop-color="#3bff00"/><stop offset="0.5290" stop-color="#3bff00"/><stop offset="0.5300" stop-color="#2cff00"/><stop offset="0.5449" stop-color="#2cff00"/><stop offset="0.5459" stop-color="#1dff00"/><stop offset="0.5524" stop-color="#1dff00"/><stop offset="0.5534" stop-color="#0fff00"/><stop offset="0.5599" stop-color="#0fff00"/><stop offset="0.5609" stop-color="#00ff00"/><stop offset="0.5627" stop-color="#00ff00"/><stop offset="0.5637" stop-color="#00d400"/><stop offset="0.5740" stop-color="#00c200"/><stop offset="0.5918" stop-color="#009a00"/><stop offset="0.6011" stop-color="#00a668"/><stop offset="0.6021" stop-color="#00a668"/><stop offset="0.6049" stop-color="#00aa88"/><stop offset="0.6152" stop-color="#00aa9d"/><stop offset="0.6358" stop-color="#00aaa5"/><stop offset="0.6451" stop-color="#00a6b7"/><stop offset="0.6639" stop-color="#0098dd"/><stop offset="0.6919" stop-color="#0088dd"/><stop offset="0.7013" stop-color="#0078dd"/><stop offset="0.7051" stop-color="#0054dd"/><stop offset="0.7060" stop-color="#0054dd"/><stop offset="0.7097" stop-color="#002fdd"/><stop offset="0.7107" stop-color="#002fdd"/><stop offset="0.7144" stop-color="#0009dd"/><stop offset="0.7154" stop-color="#0009dd"/><stop offset="0.7163" stop-color="#0000dd"/><stop offset="0.7275" stop-color="#0000d9"/><stop offset="0.7313" stop-color="#0000d5"/><stop offset="0.7369" stop-color="#0000d5"/><stop offset="0.7406" stop-color="#0000d1"/><stop offset="0.7416" stop-color="#0000dd"/><stop offset="0.7425" stop-color="#0000dd"/><stop offset="0.7434" stop-color="#00a353"/><stop offset="0.7500" stop-color="#00a353"/><stop offset="0.7509" stop-color="#0000bd"/><stop offset="0.7575" stop-color="#0000bd"/><stop offset="0.7584" stop-color="#0000d1"/><stop offset="0.7594" stop-color="#0000d1"/><stop offset="0.7603" stop-color="#0098dd"/><stop offset="0.7669" stop-color="#0098dd"/><stop offset="0.7678" stop-color="#002fdd"/><stop offset="0.7706" stop-color="#002fdd"/><stop offset="0.7715" stop-color="#0092dd"/><stop offset="0.7818" stop-color="#0092dd"/><stop offset="0.7828" stop-color="#00aa95"/><stop offset="0.7875" stop-color="#00aa95"/><stop offset="0.7884" stop-color="#0000cd"/><stop offset="0.7893" stop-color="#0000cd"/><stop offset="0.7903" stop-color="#0000b1"/><stop offset="0.7968" stop-color="#0000b1"/><stop offset="0.7978" stop-color="#00a3bf"/><stop offset="0.8043" stop-color="#00a3bf"/><stop offset="0.8052" stop-color="#0000c9"/><stop offset="0.8062" stop-color="#0000c9"/><stop offset="0.8071" stop-color="#58009f"/><stop offset="0.8155" stop-color="#58009f"/><stop offset="0.8165" stop-color="#0000c9"/><stop offset="0.8174" stop-color="#0000c9"/><stop offset="0.8184" stop-color="#0000bd"/><stop offset="0.8212" stop-color="#0000bd"/><stop offset="0.8221" stop-color="#0000c9"/><stop offset="0.8240" stop-color="#0000c9"/><stop offset="0.8249" stop-color="#850096"/><stop offset="0.8268" stop-color="#7d008e"/><stop offset="0.8418" stop-color="#770088"/><stop offset="0.8427" stop-color="#700080"/><stop offset="0.8521" stop-color="#700080"/><stop offset="0.8530" stop-color="#670075"/><stop offset="0.8689" stop-color="#670075"/><stop offset="0.8699" stop-color="#5d006b"/><stop offset="0.8886" stop-color="#5d006b"/><stop offset="0.8895" stop-color="#540060"/><stop offset="0.9101" stop-color="#540060"/><stop offset="0.9110" stop-color="#4b0055"/><stop offset="0.9279" stop-color="#4b0055"/><stop offset="0.9288" stop-color="#41004b"/><stop offset="0.9466" stop-color="#41004b"/><stop offset="0.9476" stop-color="#380040"/><stop offset="0.9597" stop-color="#380040"/><stop offset="0.9607" stop-color="#2f0035"/><stop offset="0.9728" stop-color="#2f0035"/><stop offset="0.9738" stop-color="#25002b"/><stop offset="0.9850" stop-color="#25002b"/><stop offset="0.9860" stop-color="#1c0020"/><stop offset="0.9963" stop-color="#1c0020"/><stop offset="0.9972" stop-color="#130015"/><stop offset="1.0000" stop-color="#130015"/></linearGradient><linearGradient id="gLON2" gradientUnits="userSpaceOnUse" x1="48.00" y1="0" x2="315.00" y2="0"><stop offset="0.0000" stop-color="#130015"/><stop offset="0.1929" stop-color="#130015"/><stop offset="0.1938" stop-color="#4b0055"/><stop offset="0.1948" stop-color="#7a008b"/><stop offset="0.2032" stop-color="#870098"/><stop offset="0.2041" stop-color="#58009f"/><stop offset="0.2051" stop-color="#0d00a8"/><stop offset="0.2060" stop-color="#0000bd"/><stop offset="0.2069" stop-color="#0000d5"/><stop offset="0.2079" stop-color="#0041dd"/><stop offset="0.2088" stop-color="#0082dd"/><stop offset="0.2097" stop-color="#009adb"/><stop offset="0.2107" stop-color="#00a6b7"/><stop offset="0.2116" stop-color="#00aa98"/><stop offset="0.2144" stop-color="#009a00"/><stop offset="0.2210" stop-color="#00e200"/><stop offset="0.2247" stop-color="#00ff00"/><stop offset="0.2257" stop-color="#1dff00"/><stop offset="0.2266" stop-color="#49ff00"/><stop offset="0.2303" stop-color="#bcff00"/><stop offset="0.2360" stop-color="#e4f100"/><stop offset="0.2378" stop-color="#efed00"/><stop offset="0.2453" stop-color="#ffcd00"/><stop offset="0.2509" stop-color="#ffa900"/><stop offset="0.2519" stop-color="#ffa500"/><stop offset="0.2528" stop-color="#ff9900"/><stop offset="0.2566" stop-color="#ff0900"/><stop offset="0.2575" stop-color="#f90000"/><stop offset="0.3680" stop-color="#ec0000"/><stop offset="0.3989" stop-color="#ec0000"/><stop offset="0.5346" stop-color="#f10000"/><stop offset="0.5365" stop-color="#fc0000"/><stop offset="0.5375" stop-color="#ff0900"/><stop offset="0.5403" stop-color="#ff5100"/><stop offset="0.5421" stop-color="#ff6900"/><stop offset="0.5431" stop-color="#ff6900"/><stop offset="0.5449" stop-color="#ff8100"/><stop offset="0.5459" stop-color="#ff8100"/><stop offset="0.5478" stop-color="#ff9900"/><stop offset="0.5618" stop-color="#ffc100"/><stop offset="0.5758" stop-color="#fdcf00"/><stop offset="0.6058" stop-color="#f1e700"/><stop offset="0.6330" stop-color="#ecef00"/><stop offset="0.6367" stop-color="#e8f000"/><stop offset="0.6404" stop-color="#e8f000"/><stop offset="0.6442" stop-color="#e4f100"/><stop offset="0.6573" stop-color="#c0fd00"/><stop offset="0.6592" stop-color="#bcff00"/><stop offset="0.6601" stop-color="#b0ff00"/><stop offset="0.6610" stop-color="#b0ff00"/><stop offset="0.6695" stop-color="#2cff00"/><stop offset="0.6704" stop-color="#0fff00"/><stop offset="0.6713" stop-color="#00ff00"/><stop offset="0.7172" stop-color="#00f200"/><stop offset="0.7238" stop-color="#00aa00"/><stop offset="0.7257" stop-color="#009c00"/><stop offset="0.7266" stop-color="#009a08"/><stop offset="0.7285" stop-color="#009f33"/><stop offset="0.7294" stop-color="#00a353"/><stop offset="0.7313" stop-color="#00a97d"/><stop offset="0.7322" stop-color="#00aa88"/><stop offset="0.7903" stop-color="#00aaa3"/><stop offset="0.7912" stop-color="#009cd3"/><stop offset="0.7921" stop-color="#0098dd"/><stop offset="0.8090" stop-color="#008add"/><stop offset="0.8099" stop-color="#001cdd"/><stop offset="0.8109" stop-color="#0000dd"/><stop offset="0.8184" stop-color="#0000dd"/><stop offset="0.8193" stop-color="#0080dd"/><stop offset="0.8202" stop-color="#00a3bf"/><stop offset="0.8240" stop-color="#00a3bf"/><stop offset="0.8249" stop-color="#2300a6"/><stop offset="0.8258" stop-color="#870098"/><stop offset="0.9522" stop-color="#820093"/><stop offset="0.9700" stop-color="#770088"/><stop offset="0.9710" stop-color="#700080"/><stop offset="0.9738" stop-color="#700080"/><stop offset="0.9747" stop-color="#670075"/><stop offset="0.9766" stop-color="#670075"/><stop offset="0.9775" stop-color="#5d006b"/><stop offset="0.9803" stop-color="#5d006b"/><stop offset="0.9813" stop-color="#540060"/><stop offset="0.9831" stop-color="#540060"/><stop offset="0.9841" stop-color="#4b0055"/><stop offset="0.9869" stop-color="#4b0055"/><stop offset="0.9878" stop-color="#41004b"/><stop offset="0.9897" stop-color="#41004b"/><stop offset="0.9906" stop-color="#380040"/><stop offset="0.9934" stop-color="#380040"/><stop offset="0.9944" stop-color="#2f0035"/><stop offset="0.9972" stop-color="#2f0035"/><stop offset="0.9981" stop-color="#25002b"/><stop offset="1.0000" stop-color="#25002b"/></linearGradient><linearGradient id="gRON" gradientUnits="userSpaceOnUse" x1="329.00" y1="0" x2="595.00" y2="0"><stop offset="0.0000" stop-color="#130015"/><stop offset="0.1917" stop-color="#130015"/><stop offset="0.1927" stop-color="#5d006b"/><stop offset="0.1936" stop-color="#7e008f"/><stop offset="0.2030" stop-color="#870098"/><stop offset="0.2039" stop-color="#3800a3"/><stop offset="0.2049" stop-color="#0000b5"/><stop offset="0.2058" stop-color="#0000d5"/><stop offset="0.2068" stop-color="#0041dd"/><stop offset="0.2077" stop-color="#0082dd"/><stop offset="0.2086" stop-color="#009adb"/><stop offset="0.2096" stop-color="#00a6b7"/><stop offset="0.2105" stop-color="#00aa98"/><stop offset="0.2133" stop-color="#009a00"/><stop offset="0.2199" stop-color="#00e200"/><stop offset="0.2237" stop-color="#00ff00"/><stop offset="0.2246" stop-color="#1dff00"/><stop offset="0.2256" stop-color="#49ff00"/><stop offset="0.2293" stop-color="#bcff00"/><stop offset="0.2350" stop-color="#e4f100"/><stop offset="0.2368" stop-color="#efed00"/><stop offset="0.2444" stop-color="#ffcd00"/><stop offset="0.2500" stop-color="#ffa500"/><stop offset="0.2519" stop-color="#ff9900"/><stop offset="0.2575" stop-color="#ff0900"/><stop offset="0.2585" stop-color="#fc0000"/><stop offset="0.2603" stop-color="#f60000"/><stop offset="0.3919" stop-color="#e90000"/><stop offset="0.5160" stop-color="#f10000"/><stop offset="0.5188" stop-color="#fc0000"/><stop offset="0.5207" stop-color="#ff1500"/><stop offset="0.5226" stop-color="#ff4500"/><stop offset="0.5273" stop-color="#ff8100"/><stop offset="0.5282" stop-color="#ff8100"/><stop offset="0.5301" stop-color="#ff9900"/><stop offset="0.5395" stop-color="#ffb900"/><stop offset="0.5451" stop-color="#ffc500"/><stop offset="0.5517" stop-color="#fcd200"/><stop offset="0.5620" stop-color="#f5df00"/><stop offset="0.5940" stop-color="#ecef00"/><stop offset="0.6034" stop-color="#e4f100"/><stop offset="0.6071" stop-color="#d4f700"/><stop offset="0.6109" stop-color="#c8fb00"/><stop offset="0.6147" stop-color="#bcff00"/><stop offset="0.6165" stop-color="#a1ff00"/><stop offset="0.6175" stop-color="#a1ff00"/><stop offset="0.6231" stop-color="#49ff00"/><stop offset="0.6241" stop-color="#49ff00"/><stop offset="0.6288" stop-color="#00ff00"/><stop offset="0.6964" stop-color="#00f200"/><stop offset="0.7086" stop-color="#00a400"/><stop offset="0.7105" stop-color="#009c00"/><stop offset="0.7124" stop-color="#009b13"/><stop offset="0.7133" stop-color="#009e28"/><stop offset="0.7143" stop-color="#009f33"/><stop offset="0.7152" stop-color="#00a248"/><stop offset="0.7162" stop-color="#00a353"/><stop offset="0.7171" stop-color="#00a668"/><stop offset="0.7180" stop-color="#00a773"/><stop offset="0.7190" stop-color="#00aa88"/><stop offset="0.8130" stop-color="#00aaa3"/><stop offset="0.8139" stop-color="#0000dd"/><stop offset="0.8186" stop-color="#0000dd"/><stop offset="0.8195" stop-color="#00a7b3"/><stop offset="0.8261" stop-color="#00a7b3"/><stop offset="0.8271" stop-color="#009adb"/><stop offset="0.8280" stop-color="#0098dd"/><stop offset="0.8289" stop-color="#0088dd"/><stop offset="0.8299" stop-color="#0067dd"/><stop offset="0.8308" stop-color="#0025dd"/><stop offset="0.8318" stop-color="#0000cd"/><stop offset="0.8327" stop-color="#0000c5"/><stop offset="0.8459" stop-color="#0000b5"/><stop offset="0.8468" stop-color="#0000b5"/><stop offset="0.8477" stop-color="#0300aa"/><stop offset="0.8487" stop-color="#1800a7"/><stop offset="0.8496" stop-color="#3800a3"/><stop offset="0.8506" stop-color="#4d00a0"/><stop offset="0.8515" stop-color="#6d009c"/><stop offset="0.8524" stop-color="#83009a"/><stop offset="0.8562" stop-color="#870098"/><stop offset="0.9577" stop-color="#820093"/><stop offset="0.9671" stop-color="#770088"/><stop offset="0.9680" stop-color="#700080"/><stop offset="0.9690" stop-color="#700080"/><stop offset="0.9718" stop-color="#540060"/><stop offset="0.9746" stop-color="#540060"/><stop offset="0.9756" stop-color="#4b0055"/><stop offset="0.9774" stop-color="#4b0055"/><stop offset="0.9784" stop-color="#41004b"/><stop offset="0.9803" stop-color="#41004b"/><stop offset="0.9812" stop-color="#380040"/><stop offset="0.9831" stop-color="#380040"/><stop offset="0.9840" stop-color="#2f0035"/><stop offset="0.9859" stop-color="#2f0035"/><stop offset="0.9868" stop-color="#25002b"/><stop offset="0.9915" stop-color="#25002b"/><stop offset="0.9925" stop-color="#1c0020"/><stop offset="0.9962" stop-color="#1c0020"/><stop offset="0.9972" stop-color="#130015"/><stop offset="1.0000" stop-color="#130015"/></linearGradient><linearGradient id="gROFF" gradientUnits="userSpaceOnUse" x1="329.00" y1="0" x2="595.00" y2="0"><stop offset="0.0000" stop-color="#09000b"/><stop offset="0.2133" stop-color="#09000b"/><stop offset="0.2143" stop-color="#130015"/><stop offset="0.2180" stop-color="#130015"/><stop offset="0.2190" stop-color="#1c0020"/><stop offset="0.2293" stop-color="#1c0020"/><stop offset="0.2303" stop-color="#25002b"/><stop offset="0.2397" stop-color="#25002b"/><stop offset="0.2406" stop-color="#2f0035"/><stop offset="0.2528" stop-color="#2f0035"/><stop offset="0.2538" stop-color="#380040"/><stop offset="0.2660" stop-color="#380040"/><stop offset="0.2669" stop-color="#41004b"/><stop offset="0.5395" stop-color="#41004b"/><stop offset="0.5404" stop-color="#380040"/><stop offset="0.6880" stop-color="#380040"/><stop offset="0.6889" stop-color="#2f0035"/><stop offset="0.7594" stop-color="#2f0035"/><stop offset="0.7603" stop-color="#25002b"/><stop offset="0.8186" stop-color="#25002b"/><stop offset="0.8195" stop-color="#1c0020"/><stop offset="0.9492" stop-color="#1c0020"/><stop offset="0.9502" stop-color="#130015"/><stop offset="1.0000" stop-color="#130015"/></linearGradient><linearGradient id="gRGRA" gradientUnits="userSpaceOnUse" x1="329.00" y1="0" x2="595.00" y2="0"><stop offset="0.0000" stop-color="#09000b"/><stop offset="0.1974" stop-color="#09000b"/><stop offset="0.1992" stop-color="#770088"/><stop offset="0.2077" stop-color="#850096"/><stop offset="0.2171" stop-color="#870098"/><stop offset="0.2180" stop-color="#4300a2"/><stop offset="0.2190" stop-color="#0000b5"/><stop offset="0.2199" stop-color="#0000c1"/><stop offset="0.2265" stop-color="#0000dd"/><stop offset="0.2274" stop-color="#001cdd"/><stop offset="0.2284" stop-color="#004bdd"/><stop offset="0.2293" stop-color="#0070dd"/><stop offset="0.2303" stop-color="#0082dd"/><stop offset="0.2481" stop-color="#0098dd"/><stop offset="0.2509" stop-color="#00a8af"/><stop offset="0.2538" stop-color="#00aaa8"/><stop offset="0.2782" stop-color="#00aa95"/><stop offset="0.2801" stop-color="#00aa8b"/><stop offset="0.2810" stop-color="#00a97d"/><stop offset="0.2820" stop-color="#00a55d"/><stop offset="0.2848" stop-color="#009d1d"/><stop offset="0.2857" stop-color="#009a00"/><stop offset="0.3571" stop-color="#00b400"/><stop offset="0.3628" stop-color="#00c200"/><stop offset="0.4004" stop-color="#00ca00"/><stop offset="0.4107" stop-color="#00e400"/><stop offset="0.4201" stop-color="#00f200"/><stop offset="0.4530" stop-color="#00ff00"/><stop offset="0.4539" stop-color="#0fff00"/><stop offset="0.4577" stop-color="#0fff00"/><stop offset="0.4586" stop-color="#1dff00"/><stop offset="0.4615" stop-color="#1dff00"/><stop offset="0.4624" stop-color="#2cff00"/><stop offset="0.4652" stop-color="#2cff00"/><stop offset="0.4662" stop-color="#3bff00"/><stop offset="0.4746" stop-color="#3bff00"/><stop offset="0.4756" stop-color="#2cff00"/><stop offset="0.4906" stop-color="#2cff00"/><stop offset="0.4915" stop-color="#1dff00"/><stop offset="0.4981" stop-color="#1dff00"/><stop offset="0.4991" stop-color="#0fff00"/><stop offset="0.5056" stop-color="#0fff00"/><stop offset="0.5066" stop-color="#00ff00"/><stop offset="0.5357" stop-color="#00ef00"/><stop offset="0.5573" stop-color="#00cf00"/><stop offset="0.5771" stop-color="#00a700"/><stop offset="0.5818" stop-color="#009a00"/><stop offset="0.5902" stop-color="#00a55d"/><stop offset="0.5912" stop-color="#00a55d"/><stop offset="0.5949" stop-color="#00aa88"/><stop offset="0.6053" stop-color="#00aa9d"/><stop offset="0.6344" stop-color="#00aaa5"/><stop offset="0.6438" stop-color="#00a6b7"/><stop offset="0.6626" stop-color="#0098dd"/><stop offset="0.6908" stop-color="#0088dd"/><stop offset="0.7002" stop-color="#0078dd"/><stop offset="0.7039" stop-color="#0054dd"/><stop offset="0.7049" stop-color="#0054dd"/><stop offset="0.7086" stop-color="#002fdd"/><stop offset="0.7096" stop-color="#002fdd"/><stop offset="0.7133" stop-color="#0009dd"/><stop offset="0.7143" stop-color="#0009dd"/><stop offset="0.7152" stop-color="#0000dd"/><stop offset="0.7265" stop-color="#0000d9"/><stop offset="0.7303" stop-color="#0000d5"/><stop offset="0.7359" stop-color="#0000d5"/><stop offset="0.7397" stop-color="#0000d1"/><stop offset="0.7406" stop-color="#0000dd"/><stop offset="0.7415" stop-color="#0000dd"/><stop offset="0.7425" stop-color="#00a353"/><stop offset="0.7491" stop-color="#00a353"/><stop offset="0.7500" stop-color="#0000bd"/><stop offset="0.7566" stop-color="#0000bd"/><stop offset="0.7575" stop-color="#0000d1"/><stop offset="0.7585" stop-color="#0000d1"/><stop offset="0.7594" stop-color="#0098dd"/><stop offset="0.7660" stop-color="#0098dd"/><stop offset="0.7669" stop-color="#002fdd"/><stop offset="0.7697" stop-color="#002fdd"/><stop offset="0.7707" stop-color="#0092dd"/><stop offset="0.7810" stop-color="#0092dd"/><stop offset="0.7820" stop-color="#00aa95"/><stop offset="0.7867" stop-color="#00aa95"/><stop offset="0.7876" stop-color="#0000cd"/><stop offset="0.7885" stop-color="#0000cd"/><stop offset="0.7895" stop-color="#0000b1"/><stop offset="0.7961" stop-color="#0000b1"/><stop offset="0.7970" stop-color="#00a3bf"/><stop offset="0.8036" stop-color="#00a3bf"/><stop offset="0.8045" stop-color="#0000c9"/><stop offset="0.8055" stop-color="#0000c9"/><stop offset="0.8064" stop-color="#58009f"/><stop offset="0.8148" stop-color="#58009f"/><stop offset="0.8158" stop-color="#0000c9"/><stop offset="0.8167" stop-color="#0000c9"/><stop offset="0.8177" stop-color="#0000bd"/><stop offset="0.8205" stop-color="#0000bd"/><stop offset="0.8214" stop-color="#0000c9"/><stop offset="0.8233" stop-color="#0000c9"/><stop offset="0.8242" stop-color="#850096"/><stop offset="0.8261" stop-color="#7d008e"/><stop offset="0.8412" stop-color="#770088"/><stop offset="0.8421" stop-color="#700080"/><stop offset="0.8515" stop-color="#700080"/><stop offset="0.8524" stop-color="#670075"/><stop offset="0.8684" stop-color="#670075"/><stop offset="0.8694" stop-color="#5d006b"/><stop offset="0.8882" stop-color="#5d006b"/><stop offset="0.8891" stop-color="#540060"/><stop offset="0.9098" stop-color="#540060"/><stop offset="0.9107" stop-color="#4b0055"/><stop offset="0.9276" stop-color="#4b0055"/><stop offset="0.9286" stop-color="#41004b"/><stop offset="0.9464" stop-color="#41004b"/><stop offset="0.9474" stop-color="#380040"/><stop offset="0.9596" stop-color="#380040"/><stop offset="0.9605" stop-color="#2f0035"/><stop offset="0.9727" stop-color="#2f0035"/><stop offset="0.9737" stop-color="#25002b"/><stop offset="0.9850" stop-color="#25002b"/><stop offset="0.9859" stop-color="#1c0020"/><stop offset="0.9962" stop-color="#1c0020"/><stop offset="0.9972" stop-color="#130015"/><stop offset="1.0000" stop-color="#130015"/></linearGradient><linearGradient id="gRGRB" gradientUnits="userSpaceOnUse" x1="329.00" y1="0" x2="595.00" y2="0"><stop offset="0.0000" stop-color="#09000b"/><stop offset="0.1974" stop-color="#09000b"/><stop offset="0.1992" stop-color="#770088"/><stop offset="0.2077" stop-color="#850096"/><stop offset="0.2171" stop-color="#870098"/><stop offset="0.2180" stop-color="#4300a2"/><stop offset="0.2190" stop-color="#0000b5"/><stop offset="0.2199" stop-color="#0000c1"/><stop offset="0.2265" stop-color="#0000dd"/><stop offset="0.2274" stop-color="#001cdd"/><stop offset="0.2284" stop-color="#004bdd"/><stop offset="0.2293" stop-color="#0070dd"/><stop offset="0.2303" stop-color="#0082dd"/><stop offset="0.2340" stop-color="#0098dd"/><stop offset="0.2378" stop-color="#00a3bf"/><stop offset="0.2547" stop-color="#00aaa8"/><stop offset="0.2594" stop-color="#00aaa3"/><stop offset="0.2603" stop-color="#00ac00"/><stop offset="0.2613" stop-color="#00bc00"/><stop offset="0.3412" stop-color="#00c200"/><stop offset="0.3618" stop-color="#00bc00"/><stop offset="0.3637" stop-color="#00c200"/><stop offset="0.4004" stop-color="#00ca00"/><stop offset="0.4107" stop-color="#00e400"/><stop offset="0.4201" stop-color="#00f200"/><stop offset="0.4530" stop-color="#00ff00"/><stop offset="0.4539" stop-color="#0fff00"/><stop offset="0.4577" stop-color="#0fff00"/><stop offset="0.4586" stop-color="#1dff00"/><stop offset="0.4615" stop-color="#1dff00"/><stop offset="0.4624" stop-color="#2cff00"/><stop offset="0.4652" stop-color="#2cff00"/><stop offset="0.4662" stop-color="#3bff00"/><stop offset="0.4746" stop-color="#3bff00"/><stop offset="0.4756" stop-color="#2cff00"/><stop offset="0.4906" stop-color="#2cff00"/><stop offset="0.4915" stop-color="#1dff00"/><stop offset="0.4981" stop-color="#1dff00"/><stop offset="0.4991" stop-color="#0fff00"/><stop offset="0.5056" stop-color="#0fff00"/><stop offset="0.5066" stop-color="#00ff00"/><stop offset="0.5357" stop-color="#00ef00"/><stop offset="0.5573" stop-color="#00cf00"/><stop offset="0.5771" stop-color="#00a700"/><stop offset="0.5818" stop-color="#009a00"/><stop offset="0.5902" stop-color="#00a55d"/><stop offset="0.5912" stop-color="#00a55d"/><stop offset="0.5949" stop-color="#00aa88"/><stop offset="0.6053" stop-color="#00aa9d"/><stop offset="0.6344" stop-color="#00aaa5"/><stop offset="0.6438" stop-color="#00a6b7"/><stop offset="0.6626" stop-color="#0098dd"/><stop offset="0.6908" stop-color="#0088dd"/><stop offset="0.7002" stop-color="#0078dd"/><stop offset="0.7039" stop-color="#0054dd"/><stop offset="0.7049" stop-color="#0054dd"/><stop offset="0.7086" stop-color="#002fdd"/><stop offset="0.7096" stop-color="#002fdd"/><stop offset="0.7133" stop-color="#0009dd"/><stop offset="0.7143" stop-color="#0009dd"/><stop offset="0.7152" stop-color="#0000dd"/><stop offset="0.7265" stop-color="#0000d9"/><stop offset="0.7303" stop-color="#0000d5"/><stop offset="0.7359" stop-color="#0000d5"/><stop offset="0.7397" stop-color="#0000d1"/><stop offset="0.7406" stop-color="#0000dd"/><stop offset="0.7415" stop-color="#0000dd"/><stop offset="0.7425" stop-color="#00a353"/><stop offset="0.7491" stop-color="#00a353"/><stop offset="0.7500" stop-color="#0000bd"/><stop offset="0.7566" stop-color="#0000bd"/><stop offset="0.7575" stop-color="#0000d1"/><stop offset="0.7585" stop-color="#0000d1"/><stop offset="0.7594" stop-color="#0098dd"/><stop offset="0.7660" stop-color="#0098dd"/><stop offset="0.7669" stop-color="#002fdd"/><stop offset="0.7697" stop-color="#002fdd"/><stop offset="0.7707" stop-color="#0092dd"/><stop offset="0.7810" stop-color="#0092dd"/><stop offset="0.7820" stop-color="#00aa95"/><stop offset="0.7867" stop-color="#00aa95"/><stop offset="0.7876" stop-color="#0000cd"/><stop offset="0.7885" stop-color="#0000cd"/><stop offset="0.7895" stop-color="#0000b1"/><stop offset="0.7961" stop-color="#0000b1"/><stop offset="0.7970" stop-color="#00a3bf"/><stop offset="0.8036" stop-color="#00a3bf"/><stop offset="0.8045" stop-color="#0000c9"/><stop offset="0.8055" stop-color="#0000c9"/><stop offset="0.8064" stop-color="#58009f"/><stop offset="0.8148" stop-color="#58009f"/><stop offset="0.8158" stop-color="#0000c9"/><stop offset="0.8167" stop-color="#0000c9"/><stop offset="0.8177" stop-color="#0000bd"/><stop offset="0.8205" stop-color="#0000bd"/><stop offset="0.8214" stop-color="#0000c9"/><stop offset="0.8233" stop-color="#0000c9"/><stop offset="0.8242" stop-color="#850096"/><stop offset="0.8261" stop-color="#7d008e"/><stop offset="0.8412" stop-color="#770088"/><stop offset="0.8421" stop-color="#700080"/><stop offset="0.8515" stop-color="#700080"/><stop offset="0.8524" stop-color="#670075"/><stop offset="0.8684" stop-color="#670075"/><stop offset="0.8694" stop-color="#5d006b"/><stop offset="0.8882" stop-color="#5d006b"/><stop offset="0.8891" stop-color="#540060"/><stop offset="0.9098" stop-color="#540060"/><stop offset="0.9107" stop-color="#4b0055"/><stop offset="0.9276" stop-color="#4b0055"/><stop offset="0.9286" stop-color="#41004b"/><stop offset="0.9464" stop-color="#41004b"/><stop offset="0.9474" stop-color="#380040"/><stop offset="0.9596" stop-color="#380040"/><stop offset="0.9605" stop-color="#2f0035"/><stop offset="0.9727" stop-color="#2f0035"/><stop offset="0.9737" stop-color="#25002b"/><stop offset="0.9850" stop-color="#25002b"/><stop offset="0.9859" stop-color="#1c0020"/><stop offset="0.9962" stop-color="#1c0020"/><stop offset="0.9972" stop-color="#130015"/><stop offset="1.0000" stop-color="#130015"/></linearGradient><linearGradient id="gRGRC" gradientUnits="userSpaceOnUse" x1="329.00" y1="0" x2="595.00" y2="0"><stop offset="0.0000" stop-color="#09000b"/><stop offset="0.1974" stop-color="#09000b"/><stop offset="0.1992" stop-color="#770088"/><stop offset="0.2077" stop-color="#850096"/><stop offset="0.2171" stop-color="#870098"/><stop offset="0.2180" stop-color="#4300a2"/><stop offset="0.2190" stop-color="#0000b5"/><stop offset="0.2199" stop-color="#0000c1"/><stop offset="0.2265" stop-color="#0000dd"/><stop offset="0.2274" stop-color="#001cdd"/><stop offset="0.2284" stop-color="#004bdd"/><stop offset="0.2293" stop-color="#0070dd"/><stop offset="0.2303" stop-color="#0082dd"/><stop offset="0.2491" stop-color="#0098dd"/><stop offset="0.2547" stop-color="#00a6b7"/><stop offset="0.2556" stop-color="#00ac00"/><stop offset="0.2566" stop-color="#00dc00"/><stop offset="0.3111" stop-color="#00ec00"/><stop offset="0.4427" stop-color="#00fa00"/><stop offset="0.5282" stop-color="#00f700"/><stop offset="0.5461" stop-color="#00bc00"/><stop offset="0.5508" stop-color="#009a00"/><stop offset="0.5517" stop-color="#009b13"/><stop offset="0.5526" stop-color="#009f33"/><stop offset="0.5536" stop-color="#00a248"/><stop offset="0.5555" stop-color="#00a55d"/><stop offset="0.5583" stop-color="#00a55d"/><stop offset="0.5592" stop-color="#00a668"/><stop offset="0.5611" stop-color="#00a668"/><stop offset="0.5620" stop-color="#00a773"/><stop offset="0.5648" stop-color="#00a773"/><stop offset="0.5658" stop-color="#00a97d"/><stop offset="0.5677" stop-color="#00a97d"/><stop offset="0.5686" stop-color="#00aa88"/><stop offset="0.6071" stop-color="#00aaa8"/><stop offset="0.6194" stop-color="#00a4bb"/><stop offset="0.6363" stop-color="#009bd7"/><stop offset="0.6438" stop-color="#0095dd"/><stop offset="0.6570" stop-color="#008ddd"/><stop offset="0.6776" stop-color="#007ddd"/><stop offset="0.6786" stop-color="#0070dd"/><stop offset="0.6814" stop-color="#0000dd"/><stop offset="0.6927" stop-color="#0000d9"/><stop offset="0.7039" stop-color="#0000d5"/><stop offset="0.7152" stop-color="#0000d1"/><stop offset="0.7265" stop-color="#0000cd"/><stop offset="0.7397" stop-color="#0000c9"/><stop offset="0.7406" stop-color="#0000dd"/><stop offset="0.7415" stop-color="#0000dd"/><stop offset="0.7425" stop-color="#00a353"/><stop offset="0.7491" stop-color="#00a353"/><stop offset="0.7500" stop-color="#0000bd"/><stop offset="0.7566" stop-color="#0000bd"/><stop offset="0.7575" stop-color="#0000c9"/><stop offset="0.7585" stop-color="#0000c9"/><stop offset="0.7594" stop-color="#0098dd"/><stop offset="0.7660" stop-color="#0098dd"/><stop offset="0.7669" stop-color="#002fdd"/><stop offset="0.7697" stop-color="#002fdd"/><stop offset="0.7707" stop-color="#0092dd"/><stop offset="0.7810" stop-color="#0092dd"/><stop offset="0.7820" stop-color="#00aa95"/><stop offset="0.7867" stop-color="#00aa95"/><stop offset="0.7876" stop-color="#0000c9"/><stop offset="0.7885" stop-color="#0000c9"/><stop offset="0.7895" stop-color="#0000b1"/><stop offset="0.7961" stop-color="#0000b1"/><stop offset="0.7970" stop-color="#00a3bf"/><stop offset="0.8036" stop-color="#00a3bf"/><stop offset="0.8045" stop-color="#0000c9"/><stop offset="0.8055" stop-color="#0000c9"/><stop offset="0.8064" stop-color="#58009f"/><stop offset="0.8148" stop-color="#58009f"/><stop offset="0.8158" stop-color="#0000c9"/><stop offset="0.8167" stop-color="#0000c9"/><stop offset="0.8177" stop-color="#0000bd"/><stop offset="0.8205" stop-color="#0000bd"/><stop offset="0.8214" stop-color="#0000c9"/><stop offset="0.8233" stop-color="#0000c9"/><stop offset="0.8242" stop-color="#850096"/><stop offset="0.8261" stop-color="#7d008e"/><stop offset="0.8412" stop-color="#770088"/><stop offset="0.8421" stop-color="#700080"/><stop offset="0.8515" stop-color="#700080"/><stop offset="0.8524" stop-color="#670075"/><stop offset="0.8684" stop-color="#670075"/><stop offset="0.8694" stop-color="#5d006b"/><stop offset="0.8882" stop-color="#5d006b"/><stop offset="0.8891" stop-color="#540060"/><stop offset="0.9098" stop-color="#540060"/><stop offset="0.9107" stop-color="#4b0055"/><stop offset="0.9276" stop-color="#4b0055"/><stop offset="0.9286" stop-color="#41004b"/><stop offset="0.9464" stop-color="#41004b"/><stop offset="0.9474" stop-color="#380040"/><stop offset="0.9596" stop-color="#380040"/><stop offset="0.9605" stop-color="#2f0035"/><stop offset="0.9727" stop-color="#2f0035"/><stop offset="0.9737" stop-color="#25002b"/><stop offset="0.9850" stop-color="#25002b"/><stop offset="0.9859" stop-color="#1c0020"/><stop offset="0.9962" stop-color="#1c0020"/><stop offset="0.9972" stop-color="#130015"/><stop offset="1.0000" stop-color="#130015"/></linearGradient><linearGradient id="gRBLK" gradientUnits="userSpaceOnUse" x1="329.00" y1="0" x2="595.00" y2="0"><stop offset="0.0000" stop-color="#000000"/><stop offset="1.0000" stop-color="#000000"/></linearGradient><linearGradient id="gRON2" gradientUnits="userSpaceOnUse" x1="329.00" y1="0" x2="595.00" y2="0"><stop offset="0.0000" stop-color="#130015"/><stop offset="0.1936" stop-color="#130015"/><stop offset="0.1945" stop-color="#7a008b"/><stop offset="0.2021" stop-color="#870098"/><stop offset="0.2030" stop-color="#58009f"/><stop offset="0.2039" stop-color="#0d00a8"/><stop offset="0.2049" stop-color="#0000bd"/><stop offset="0.2058" stop-color="#0000d5"/><stop offset="0.2068" stop-color="#0041dd"/><stop offset="0.2077" stop-color="#0082dd"/><stop offset="0.2086" stop-color="#009adb"/><stop offset="0.2096" stop-color="#00a6b7"/><stop offset="0.2105" stop-color="#00aa98"/><stop offset="0.2133" stop-color="#009a00"/><stop offset="0.2199" stop-color="#00e200"/><stop offset="0.2237" stop-color="#00fc00"/><stop offset="0.2246" stop-color="#0fff00"/><stop offset="0.2256" stop-color="#2cff00"/><stop offset="0.2265" stop-color="#58ff00"/><stop offset="0.2274" stop-color="#75ff00"/><stop offset="0.2284" stop-color="#a1ff00"/><stop offset="0.2293" stop-color="#bcff00"/><stop offset="0.2350" stop-color="#ecef00"/><stop offset="0.2425" stop-color="#ffc500"/><stop offset="0.2462" stop-color="#ffa500"/><stop offset="0.2481" stop-color="#ff9900"/><stop offset="0.2500" stop-color="#ff2100"/><stop offset="0.2509" stop-color="#f90000"/><stop offset="0.3647" stop-color="#ec0000"/><stop offset="0.3957" stop-color="#ec0000"/><stop offset="0.5451" stop-color="#f10000"/><stop offset="0.5470" stop-color="#fe0000"/><stop offset="0.5479" stop-color="#ff1500"/><stop offset="0.5489" stop-color="#ff3900"/><stop offset="0.5498" stop-color="#ff5100"/><stop offset="0.5545" stop-color="#ff8d00"/><stop offset="0.5555" stop-color="#ff8d00"/><stop offset="0.5564" stop-color="#ff9900"/><stop offset="0.5639" stop-color="#ffb500"/><stop offset="0.5705" stop-color="#ffc500"/><stop offset="0.5893" stop-color="#f8da00"/><stop offset="0.6053" stop-color="#f1e700"/><stop offset="0.6212" stop-color="#ecef00"/><stop offset="0.6250" stop-color="#e8f000"/><stop offset="0.6353" stop-color="#e0f300"/><stop offset="0.6419" stop-color="#d8f500"/><stop offset="0.6513" stop-color="#bcff00"/><stop offset="0.6523" stop-color="#b0ff00"/><stop offset="0.6532" stop-color="#b0ff00"/><stop offset="0.6551" stop-color="#93ff00"/><stop offset="0.6560" stop-color="#93ff00"/><stop offset="0.6588" stop-color="#67ff00"/><stop offset="0.6598" stop-color="#67ff00"/><stop offset="0.6626" stop-color="#3bff00"/><stop offset="0.6635" stop-color="#3bff00"/><stop offset="0.6664" stop-color="#0fff00"/><stop offset="0.6673" stop-color="#0fff00"/><stop offset="0.6682" stop-color="#00ff00"/><stop offset="0.7265" stop-color="#00f200"/><stop offset="0.7359" stop-color="#009f00"/><stop offset="0.7368" stop-color="#009a08"/><stop offset="0.7387" stop-color="#009f33"/><stop offset="0.7397" stop-color="#00a353"/><stop offset="0.7406" stop-color="#00a668"/><stop offset="0.7415" stop-color="#00aa88"/><stop offset="0.7491" stop-color="#00aa8b"/><stop offset="0.7500" stop-color="#0098dd"/><stop offset="0.7528" stop-color="#0098dd"/><stop offset="0.7538" stop-color="#00aa8d"/><stop offset="0.7641" stop-color="#00aa90"/><stop offset="0.7650" stop-color="#009a00"/><stop offset="0.7679" stop-color="#009a00"/><stop offset="0.7688" stop-color="#00aa93"/><stop offset="0.7754" stop-color="#00aa93"/><stop offset="0.7763" stop-color="#0098dd"/><stop offset="0.7791" stop-color="#0098dd"/><stop offset="0.7801" stop-color="#00aa95"/><stop offset="0.7904" stop-color="#00aa98"/><stop offset="0.7914" stop-color="#0078dd"/><stop offset="0.7942" stop-color="#0078dd"/><stop offset="0.7951" stop-color="#00aa9b"/><stop offset="0.8017" stop-color="#00aa9d"/><stop offset="0.8026" stop-color="#00a353"/><stop offset="0.8055" stop-color="#00a353"/><stop offset="0.8064" stop-color="#00aa9d"/><stop offset="0.8205" stop-color="#00aaa3"/><stop offset="0.8214" stop-color="#009ecf"/><stop offset="0.8224" stop-color="#007add"/><stop offset="0.8233" stop-color="#0000dd"/><stop offset="0.8308" stop-color="#0000d5"/><stop offset="0.8430" stop-color="#0000c9"/><stop offset="0.8440" stop-color="#0000b5"/><stop offset="0.8449" stop-color="#1800a7"/><stop offset="0.8468" stop-color="#83009a"/><stop offset="0.8506" stop-color="#870098"/><stop offset="0.9737" stop-color="#820093"/><stop offset="0.9850" stop-color="#770088"/><stop offset="0.9859" stop-color="#700080"/><stop offset="0.9868" stop-color="#700080"/><stop offset="0.9878" stop-color="#670075"/><stop offset="0.9887" stop-color="#670075"/><stop offset="0.9897" stop-color="#5d006b"/><stop offset="0.9906" stop-color="#5d006b"/><stop offset="0.9925" stop-color="#4b0055"/><stop offset="0.9934" stop-color="#4b0055"/><stop offset="0.9944" stop-color="#41004b"/><stop offset="0.9953" stop-color="#41004b"/><stop offset="0.9962" stop-color="#380040"/><stop offset="0.9972" stop-color="#380040"/><stop offset="0.9981" stop-color="#2f0035"/><stop offset="0.9991" stop-color="#2f0035"/><stop offset="1.0000" stop-color="#25002b"/></linearGradient><linearGradient id="bd0" gradientUnits="userSpaceOnUse" x1="48.00" y1="0" x2="315.00" y2="0"><stop offset="0.0000" stop-color="#09000b"/><stop offset="0.1948" stop-color="#09000b"/><stop offset="0.1957" stop-color="#25002b"/><stop offset="0.1966" stop-color="#5d006b"/><stop offset="0.1976" stop-color="#700080"/><stop offset="0.1994" stop-color="#79008a"/><stop offset="0.2051" stop-color="#7d008e"/><stop offset="0.2069" stop-color="#870098"/><stop offset="0.2088" stop-color="#2d00a4"/><stop offset="0.2097" stop-color="#0000b5"/><stop offset="0.2107" stop-color="#0000cd"/><stop offset="0.2116" stop-color="#001cdd"/><stop offset="0.2125" stop-color="#0054dd"/><stop offset="0.2135" stop-color="#0080dd"/><stop offset="0.2154" stop-color="#009adb"/><stop offset="0.2191" stop-color="#00aaab"/><stop offset="0.2228" stop-color="#00aa90"/><stop offset="0.2247" stop-color="#00aa88"/><stop offset="0.2266" stop-color="#00a55d"/><stop offset="0.2275" stop-color="#00a353"/><stop offset="0.2285" stop-color="#00a13d"/><stop offset="0.2294" stop-color="#009f33"/><stop offset="0.2303" stop-color="#009d1d"/><stop offset="0.2331" stop-color="#009a00"/><stop offset="0.2425" stop-color="#00ba00"/><stop offset="0.2566" stop-color="#00dc00"/><stop offset="0.2650" stop-color="#00ff00"/><stop offset="0.2659" stop-color="#0fff00"/><stop offset="0.2931" stop-color="#0fff00"/><stop offset="0.2940" stop-color="#1dff00"/><stop offset="0.3249" stop-color="#1dff00"/><stop offset="0.3258" stop-color="#2cff00"/><stop offset="0.3567" stop-color="#2cff00"/><stop offset="0.3577" stop-color="#3bff00"/><stop offset="0.4195" stop-color="#3bff00"/><stop offset="0.4204" stop-color="#2cff00"/><stop offset="0.4785" stop-color="#2cff00"/><stop offset="0.4794" stop-color="#1dff00"/><stop offset="0.4850" stop-color="#1dff00"/><stop offset="0.4860" stop-color="#0fff00"/><stop offset="0.4869" stop-color="#0fff00"/><stop offset="0.4878" stop-color="#00ff00"/><stop offset="0.4991" stop-color="#00ef00"/><stop offset="0.5787" stop-color="#00af00"/><stop offset="0.5983" stop-color="#009a00"/><stop offset="0.5993" stop-color="#009a08"/><stop offset="0.6002" stop-color="#009a08"/><stop offset="0.6011" stop-color="#009b13"/><stop offset="0.6021" stop-color="#009b13"/><stop offset="0.6039" stop-color="#009e28"/><stop offset="0.6049" stop-color="#009e28"/><stop offset="0.6058" stop-color="#009f33"/><stop offset="0.6067" stop-color="#009f33"/><stop offset="0.6077" stop-color="#00a13d"/><stop offset="0.6086" stop-color="#00a13d"/><stop offset="0.6096" stop-color="#00a248"/><stop offset="0.6105" stop-color="#00a248"/><stop offset="0.6114" stop-color="#00a353"/><stop offset="0.6217" stop-color="#00a353"/><stop offset="0.6227" stop-color="#00a55d"/><stop offset="0.6433" stop-color="#00a55d"/><stop offset="0.6442" stop-color="#00a668"/><stop offset="0.6639" stop-color="#00a668"/><stop offset="0.6648" stop-color="#00a773"/><stop offset="0.6845" stop-color="#00a773"/><stop offset="0.6854" stop-color="#00a97d"/><stop offset="0.6863" stop-color="#00a97d"/><stop offset="0.6882" stop-color="#00aa8d"/><stop offset="0.6948" stop-color="#00aaab"/><stop offset="0.6985" stop-color="#00a2c3"/><stop offset="0.7051" stop-color="#0098dd"/><stop offset="0.7097" stop-color="#008add"/><stop offset="0.7537" stop-color="#0078dd"/><stop offset="0.7556" stop-color="#0067dd"/><stop offset="0.7566" stop-color="#0054dd"/><stop offset="0.7584" stop-color="#0041dd"/><stop offset="0.7594" stop-color="#002fdd"/><stop offset="0.7622" stop-color="#0013dd"/><stop offset="0.7687" stop-color="#0013dd"/><stop offset="0.7697" stop-color="#0009dd"/><stop offset="0.7790" stop-color="#0009dd"/><stop offset="0.7800" stop-color="#0000dd"/><stop offset="0.7903" stop-color="#0000dd"/><stop offset="0.7912" stop-color="#0000d9"/><stop offset="0.7921" stop-color="#0054dd"/><stop offset="0.7949" stop-color="#0054dd"/><stop offset="0.7959" stop-color="#0000d9"/><stop offset="0.8006" stop-color="#0000d5"/><stop offset="0.8062" stop-color="#0000c5"/><stop offset="0.8071" stop-color="#2300a6"/><stop offset="0.8099" stop-color="#2300a6"/><stop offset="0.8109" stop-color="#0000bd"/><stop offset="0.8155" stop-color="#0000b1"/><stop offset="0.8165" stop-color="#004bdd"/><stop offset="0.8193" stop-color="#004bdd"/><stop offset="0.8202" stop-color="#4d00a0"/><stop offset="0.8221" stop-color="#870098"/><stop offset="0.8277" stop-color="#7d008e"/><stop offset="0.9551" stop-color="#79008a"/><stop offset="0.9579" stop-color="#770088"/><stop offset="0.9588" stop-color="#700080"/><stop offset="0.9597" stop-color="#700080"/><stop offset="0.9607" stop-color="#670075"/><stop offset="0.9625" stop-color="#670075"/><stop offset="0.9635" stop-color="#5d006b"/><stop offset="0.9654" stop-color="#5d006b"/><stop offset="0.9663" stop-color="#540060"/><stop offset="0.9672" stop-color="#540060"/><stop offset="0.9682" stop-color="#4b0055"/><stop offset="0.9700" stop-color="#4b0055"/><stop offset="0.9710" stop-color="#41004b"/><stop offset="0.9728" stop-color="#41004b"/><stop offset="0.9738" stop-color="#380040"/><stop offset="0.9775" stop-color="#380040"/><stop offset="0.9785" stop-color="#2f0035"/><stop offset="0.9813" stop-color="#2f0035"/><stop offset="0.9822" stop-color="#25002b"/><stop offset="0.9860" stop-color="#25002b"/><stop offset="0.9869" stop-color="#1c0020"/><stop offset="0.9906" stop-color="#1c0020"/><stop offset="0.9916" stop-color="#130015"/><stop offset="0.9991" stop-color="#130015"/><stop offset="1.0000" stop-color="#09000b"/></linearGradient><linearGradient id="bd1" gradientUnits="userSpaceOnUse" x1="48.00" y1="0" x2="315.00" y2="0"><stop offset="0.0000" stop-color="#09000b"/><stop offset="0.2041" stop-color="#09000b"/><stop offset="0.2051" stop-color="#2f0035"/><stop offset="0.2060" stop-color="#4b0055"/><stop offset="0.2069" stop-color="#5d006b"/><stop offset="0.2079" stop-color="#5d006b"/><stop offset="0.2097" stop-color="#700080"/><stop offset="0.2107" stop-color="#700080"/><stop offset="0.2125" stop-color="#79008a"/><stop offset="0.2238" stop-color="#7b008c"/><stop offset="0.2257" stop-color="#83009a"/><stop offset="0.2285" stop-color="#63009e"/><stop offset="0.2294" stop-color="#63009e"/><stop offset="0.2313" stop-color="#4d00a0"/><stop offset="0.2322" stop-color="#4d00a0"/><stop offset="0.2331" stop-color="#4300a2"/><stop offset="0.2341" stop-color="#2d00a4"/><stop offset="0.2350" stop-color="#0d00a8"/><stop offset="0.2360" stop-color="#0000ad"/><stop offset="0.2369" stop-color="#0000b9"/><stop offset="0.2406" stop-color="#0000c1"/><stop offset="0.2491" stop-color="#0000c9"/><stop offset="0.2547" stop-color="#0000d1"/><stop offset="0.2556" stop-color="#0000d9"/><stop offset="0.2575" stop-color="#0025dd"/><stop offset="0.2584" stop-color="#002fdd"/><stop offset="0.2612" stop-color="#002fdd"/><stop offset="0.2622" stop-color="#0038dd"/><stop offset="0.2659" stop-color="#0038dd"/><stop offset="0.2669" stop-color="#0041dd"/><stop offset="0.2706" stop-color="#0041dd"/><stop offset="0.2715" stop-color="#004bdd"/><stop offset="0.2762" stop-color="#004bdd"/><stop offset="0.2772" stop-color="#0054dd"/><stop offset="0.2818" stop-color="#0054dd"/><stop offset="0.2828" stop-color="#005ddd"/><stop offset="0.2846" stop-color="#005ddd"/><stop offset="0.2856" stop-color="#0067dd"/><stop offset="0.2865" stop-color="#0078dd"/><stop offset="0.2931" stop-color="#008ddd"/><stop offset="0.3539" stop-color="#009adb"/><stop offset="0.3577" stop-color="#009bd7"/><stop offset="0.3614" stop-color="#009cd3"/><stop offset="0.3652" stop-color="#009fcb"/><stop offset="0.3923" stop-color="#009fcb"/><stop offset="0.3961" stop-color="#00a0c7"/><stop offset="0.4513" stop-color="#00a0c7"/><stop offset="0.4588" stop-color="#00a4bb"/><stop offset="0.4663" stop-color="#00aaab"/><stop offset="0.4757" stop-color="#00aaa3"/><stop offset="0.5187" stop-color="#00aa98"/><stop offset="0.5309" stop-color="#00aa95"/><stop offset="0.5627" stop-color="#00aa9d"/><stop offset="0.5637" stop-color="#00a4bb"/><stop offset="0.5777" stop-color="#009cd3"/><stop offset="0.5852" stop-color="#0095dd"/><stop offset="0.6049" stop-color="#0078dd"/><stop offset="0.6058" stop-color="#0070dd"/><stop offset="0.6067" stop-color="#0070dd"/><stop offset="0.6077" stop-color="#0067dd"/><stop offset="0.6086" stop-color="#0067dd"/><stop offset="0.6096" stop-color="#005ddd"/><stop offset="0.6105" stop-color="#005ddd"/><stop offset="0.6114" stop-color="#0054dd"/><stop offset="0.6124" stop-color="#0054dd"/><stop offset="0.6133" stop-color="#004bdd"/><stop offset="0.6189" stop-color="#004bdd"/><stop offset="0.6199" stop-color="#0041dd"/><stop offset="0.6311" stop-color="#0041dd"/><stop offset="0.6320" stop-color="#0038dd"/><stop offset="0.6367" stop-color="#0038dd"/><stop offset="0.6376" stop-color="#002fdd"/><stop offset="0.6395" stop-color="#002fdd"/><stop offset="0.6404" stop-color="#0025dd"/><stop offset="0.6423" stop-color="#0025dd"/><stop offset="0.6433" stop-color="#001cdd"/><stop offset="0.6461" stop-color="#001cdd"/><stop offset="0.6470" stop-color="#0013dd"/><stop offset="0.6489" stop-color="#0013dd"/><stop offset="0.6498" stop-color="#0009dd"/><stop offset="0.6526" stop-color="#0009dd"/><stop offset="0.6536" stop-color="#0000dd"/><stop offset="0.6620" stop-color="#0000d5"/><stop offset="0.6657" stop-color="#0000d1"/><stop offset="0.6770" stop-color="#0000cd"/><stop offset="0.6807" stop-color="#0000c9"/><stop offset="0.6854" stop-color="#0000c9"/><stop offset="0.6891" stop-color="#0000c5"/><stop offset="0.6929" stop-color="#0000c1"/><stop offset="0.7060" stop-color="#0300aa"/><stop offset="0.7069" stop-color="#0d00a8"/><stop offset="0.7079" stop-color="#0d00a8"/><stop offset="0.7088" stop-color="#1800a7"/><stop offset="0.7097" stop-color="#1800a7"/><stop offset="0.7107" stop-color="#2300a6"/><stop offset="0.7125" stop-color="#2300a6"/><stop offset="0.7135" stop-color="#2d00a4"/><stop offset="0.7144" stop-color="#2d00a4"/><stop offset="0.7154" stop-color="#3800a3"/><stop offset="0.7163" stop-color="#3800a3"/><stop offset="0.7172" stop-color="#4300a2"/><stop offset="0.7303" stop-color="#4300a2"/><stop offset="0.7313" stop-color="#4d00a0"/><stop offset="0.7406" stop-color="#4d00a0"/><stop offset="0.7416" stop-color="#4300a2"/><stop offset="0.7425" stop-color="#4300a2"/><stop offset="0.7434" stop-color="#007ddd"/><stop offset="0.7500" stop-color="#007ddd"/><stop offset="0.7509" stop-color="#6d009c"/><stop offset="0.7575" stop-color="#6d009c"/><stop offset="0.7584" stop-color="#58009f"/><stop offset="0.7594" stop-color="#58009f"/><stop offset="0.7603" stop-color="#0000d1"/><stop offset="0.7669" stop-color="#0000d1"/><stop offset="0.7678" stop-color="#2300a6"/><stop offset="0.7706" stop-color="#2300a6"/><stop offset="0.7715" stop-color="#0000c9"/><stop offset="0.7818" stop-color="#0000c9"/><stop offset="0.7828" stop-color="#0054dd"/><stop offset="0.7875" stop-color="#0054dd"/><stop offset="0.7884" stop-color="#58009f"/><stop offset="0.7893" stop-color="#58009f"/><stop offset="0.7903" stop-color="#83009a"/><stop offset="0.7968" stop-color="#83009a"/><stop offset="0.7978" stop-color="#0009dd"/><stop offset="0.8043" stop-color="#0009dd"/><stop offset="0.8052" stop-color="#63009e"/><stop offset="0.8062" stop-color="#63009e"/><stop offset="0.8071" stop-color="#810092"/><stop offset="0.8155" stop-color="#810092"/><stop offset="0.8165" stop-color="#63009e"/><stop offset="0.8174" stop-color="#63009e"/><stop offset="0.8184" stop-color="#78009b"/><stop offset="0.8212" stop-color="#78009b"/><stop offset="0.8221" stop-color="#63009e"/><stop offset="0.8240" stop-color="#63009e"/><stop offset="0.8249" stop-color="#7a008b"/><stop offset="0.8258" stop-color="#700080"/><stop offset="0.8277" stop-color="#700080"/><stop offset="0.8287" stop-color="#670075"/><stop offset="0.8324" stop-color="#670075"/><stop offset="0.8333" stop-color="#5d006b"/><stop offset="0.8380" stop-color="#5d006b"/><stop offset="0.8390" stop-color="#540060"/><stop offset="0.8436" stop-color="#540060"/><stop offset="0.8446" stop-color="#4b0055"/><stop offset="0.8699" stop-color="#4b0055"/><stop offset="0.8708" stop-color="#41004b"/><stop offset="0.9007" stop-color="#41004b"/><stop offset="0.9017" stop-color="#380040"/><stop offset="0.9298" stop-color="#380040"/><stop offset="0.9307" stop-color="#2f0035"/><stop offset="0.9551" stop-color="#2f0035"/><stop offset="0.9560" stop-color="#25002b"/><stop offset="0.9757" stop-color="#25002b"/><stop offset="0.9766" stop-color="#1c0020"/><stop offset="0.9934" stop-color="#1c0020"/><stop offset="0.9944" stop-color="#130015"/><stop offset="1.0000" stop-color="#130015"/></linearGradient><linearGradient id="bd2" gradientUnits="userSpaceOnUse" x1="48.00" y1="0" x2="315.00" y2="0"><stop offset="0.0000" stop-color="#09000b"/><stop offset="0.1929" stop-color="#09000b"/><stop offset="0.1948" stop-color="#41004b"/><stop offset="0.1957" stop-color="#540060"/><stop offset="0.1976" stop-color="#540060"/><stop offset="0.1985" stop-color="#5d006b"/><stop offset="0.1994" stop-color="#5d006b"/><stop offset="0.2004" stop-color="#670075"/><stop offset="0.2022" stop-color="#670075"/><stop offset="0.2041" stop-color="#79008a"/><stop offset="0.2069" stop-color="#850096"/><stop offset="0.2079" stop-color="#78009b"/><stop offset="0.2097" stop-color="#2300a6"/><stop offset="0.2107" stop-color="#0000ad"/><stop offset="0.2125" stop-color="#0000d1"/><stop offset="0.2135" stop-color="#0000d9"/><stop offset="0.2144" stop-color="#0009dd"/><stop offset="0.2200" stop-color="#0078dd"/><stop offset="0.2294" stop-color="#0098dd"/><stop offset="0.2331" stop-color="#009cd3"/><stop offset="0.2453" stop-color="#00aaab"/><stop offset="0.2537" stop-color="#00aa98"/><stop offset="0.2575" stop-color="#00aa88"/><stop offset="0.2659" stop-color="#00aa88"/><stop offset="0.2669" stop-color="#00a97d"/><stop offset="0.2968" stop-color="#00a97d"/><stop offset="0.2978" stop-color="#00a773"/><stop offset="0.3399" stop-color="#00a773"/><stop offset="0.3408" stop-color="#00a668"/><stop offset="0.4757" stop-color="#00a668"/><stop offset="0.4766" stop-color="#00a773"/><stop offset="0.5346" stop-color="#00a773"/><stop offset="0.5365" stop-color="#00aa88"/><stop offset="0.5421" stop-color="#00aa95"/><stop offset="0.5674" stop-color="#00aaa8"/><stop offset="0.5777" stop-color="#00aaab"/><stop offset="0.5815" stop-color="#00a8af"/><stop offset="0.5918" stop-color="#00a7b3"/><stop offset="0.5955" stop-color="#00a6b7"/><stop offset="0.5993" stop-color="#00a6b7"/><stop offset="0.6030" stop-color="#00a4bb"/><stop offset="0.6096" stop-color="#00a4bb"/><stop offset="0.6133" stop-color="#00a3bf"/><stop offset="0.6264" stop-color="#00a3bf"/><stop offset="0.6301" stop-color="#00a2c3"/><stop offset="0.6433" stop-color="#00a2c3"/><stop offset="0.6526" stop-color="#009ecf"/><stop offset="0.6648" stop-color="#0098dd"/><stop offset="0.6732" stop-color="#008ddd"/><stop offset="0.7172" stop-color="#0085dd"/><stop offset="0.7200" stop-color="#0078dd"/><stop offset="0.7210" stop-color="#0067dd"/><stop offset="0.7219" stop-color="#005ddd"/><stop offset="0.7238" stop-color="#0038dd"/><stop offset="0.7294" stop-color="#0000dd"/><stop offset="0.7331" stop-color="#0000d1"/><stop offset="0.7434" stop-color="#0000d1"/><stop offset="0.7472" stop-color="#0000cd"/><stop offset="0.7556" stop-color="#0000cd"/><stop offset="0.7594" stop-color="#0000c9"/><stop offset="0.7669" stop-color="#0000c9"/><stop offset="0.7706" stop-color="#0000c5"/><stop offset="0.7781" stop-color="#0000c5"/><stop offset="0.7818" stop-color="#0000c1"/><stop offset="0.7893" stop-color="#0000c1"/><stop offset="0.7903" stop-color="#0000bd"/><stop offset="0.7912" stop-color="#0300aa"/><stop offset="0.7921" stop-color="#1800a7"/><stop offset="0.7978" stop-color="#1800a7"/><stop offset="0.7987" stop-color="#2300a6"/><stop offset="0.8052" stop-color="#2300a6"/><stop offset="0.8062" stop-color="#2d00a4"/><stop offset="0.8090" stop-color="#2d00a4"/><stop offset="0.8099" stop-color="#83009a"/><stop offset="0.8137" stop-color="#870098"/><stop offset="0.8184" stop-color="#870098"/><stop offset="0.8202" stop-color="#0000b1"/><stop offset="0.8240" stop-color="#0000b1"/><stop offset="0.8249" stop-color="#7e008f"/><stop offset="0.8258" stop-color="#770088"/><stop offset="0.8736" stop-color="#770088"/><stop offset="0.8745" stop-color="#700080"/><stop offset="0.9485" stop-color="#700080"/><stop offset="0.9494" stop-color="#670075"/><stop offset="0.9532" stop-color="#670075"/><stop offset="0.9541" stop-color="#5d006b"/><stop offset="0.9579" stop-color="#5d006b"/><stop offset="0.9588" stop-color="#540060"/><stop offset="0.9625" stop-color="#540060"/><stop offset="0.9635" stop-color="#4b0055"/><stop offset="0.9672" stop-color="#4b0055"/><stop offset="0.9682" stop-color="#41004b"/><stop offset="0.9728" stop-color="#41004b"/><stop offset="0.9738" stop-color="#380040"/><stop offset="0.9803" stop-color="#380040"/><stop offset="0.9813" stop-color="#2f0035"/><stop offset="0.9869" stop-color="#2f0035"/><stop offset="0.9878" stop-color="#25002b"/><stop offset="0.9944" stop-color="#25002b"/><stop offset="0.9953" stop-color="#1c0020"/><stop offset="1.0000" stop-color="#1c0020"/></linearGradient><linearGradient id="bd3" gradientUnits="userSpaceOnUse" x1="329.00" y1="0" x2="595.00" y2="0"><stop offset="0.0000" stop-color="#09000b"/><stop offset="0.1917" stop-color="#09000b"/><stop offset="0.1927" stop-color="#2f0035"/><stop offset="0.1936" stop-color="#5d006b"/><stop offset="0.1955" stop-color="#5d006b"/><stop offset="0.1964" stop-color="#670075"/><stop offset="0.1974" stop-color="#670075"/><stop offset="0.1983" stop-color="#700080"/><stop offset="0.2002" stop-color="#700080"/><stop offset="0.2011" stop-color="#770088"/><stop offset="0.2039" stop-color="#7e008f"/><stop offset="0.2058" stop-color="#83009a"/><stop offset="0.2077" stop-color="#1800a7"/><stop offset="0.2086" stop-color="#0000b5"/><stop offset="0.2105" stop-color="#0000d9"/><stop offset="0.2115" stop-color="#0025dd"/><stop offset="0.2124" stop-color="#0041dd"/><stop offset="0.2152" stop-color="#007add"/><stop offset="0.2209" stop-color="#009adb"/><stop offset="0.2246" stop-color="#00a0c7"/><stop offset="0.2284" stop-color="#00a7b3"/><stop offset="0.2331" stop-color="#00aaa5"/><stop offset="0.2444" stop-color="#00aa88"/><stop offset="0.2453" stop-color="#00a97d"/><stop offset="0.2462" stop-color="#00a97d"/><stop offset="0.2575" stop-color="#009a00"/><stop offset="0.2622" stop-color="#009f00"/><stop offset="0.3788" stop-color="#00a700"/><stop offset="0.5160" stop-color="#00a400"/><stop offset="0.5207" stop-color="#009a00"/><stop offset="0.5235" stop-color="#009d1d"/><stop offset="0.5244" stop-color="#009d1d"/><stop offset="0.5254" stop-color="#009e28"/><stop offset="0.5273" stop-color="#009e28"/><stop offset="0.5282" stop-color="#009f33"/><stop offset="0.5291" stop-color="#009f33"/><stop offset="0.5301" stop-color="#00a13d"/><stop offset="0.5310" stop-color="#00a13d"/><stop offset="0.5320" stop-color="#00a248"/><stop offset="0.5338" stop-color="#00a248"/><stop offset="0.5348" stop-color="#00a353"/><stop offset="0.5357" stop-color="#00a353"/><stop offset="0.5367" stop-color="#00a55d"/><stop offset="0.5376" stop-color="#00a55d"/><stop offset="0.5385" stop-color="#00a668"/><stop offset="0.5414" stop-color="#00a668"/><stop offset="0.5423" stop-color="#00a773"/><stop offset="0.5442" stop-color="#00a773"/><stop offset="0.5451" stop-color="#00a97d"/><stop offset="0.5479" stop-color="#00a97d"/><stop offset="0.5489" stop-color="#00aa88"/><stop offset="0.5667" stop-color="#00aa93"/><stop offset="0.6043" stop-color="#00aa9d"/><stop offset="0.6175" stop-color="#00a8af"/><stop offset="0.6278" stop-color="#00a2c3"/><stop offset="0.6353" stop-color="#00a0c7"/><stop offset="0.6504" stop-color="#00a0c7"/><stop offset="0.6541" stop-color="#009fcb"/><stop offset="0.6748" stop-color="#009fcb"/><stop offset="0.6786" stop-color="#009ecf"/><stop offset="0.6964" stop-color="#009ecf"/><stop offset="0.6992" stop-color="#0098dd"/><stop offset="0.7086" stop-color="#0078dd"/><stop offset="0.7096" stop-color="#0070dd"/><stop offset="0.7105" stop-color="#0070dd"/><stop offset="0.7143" stop-color="#004bdd"/><stop offset="0.7152" stop-color="#004bdd"/><stop offset="0.7180" stop-color="#002fdd"/><stop offset="0.7190" stop-color="#002fdd"/><stop offset="0.7199" stop-color="#0025dd"/><stop offset="0.7331" stop-color="#0025dd"/><stop offset="0.7340" stop-color="#001cdd"/><stop offset="0.7481" stop-color="#001cdd"/><stop offset="0.7491" stop-color="#0013dd"/><stop offset="0.7632" stop-color="#0013dd"/><stop offset="0.7641" stop-color="#0009dd"/><stop offset="0.7782" stop-color="#0009dd"/><stop offset="0.7791" stop-color="#0000dd"/><stop offset="0.7932" stop-color="#0000dd"/><stop offset="0.7970" stop-color="#0000d9"/><stop offset="0.8073" stop-color="#0000d9"/><stop offset="0.8111" stop-color="#0000d5"/><stop offset="0.8130" stop-color="#0000d5"/><stop offset="0.8139" stop-color="#6d009c"/><stop offset="0.8186" stop-color="#6d009c"/><stop offset="0.8195" stop-color="#0000cd"/><stop offset="0.8261" stop-color="#0000cd"/><stop offset="0.8271" stop-color="#0000b9"/><stop offset="0.8280" stop-color="#0000b5"/><stop offset="0.8289" stop-color="#0300aa"/><stop offset="0.8318" stop-color="#83009a"/><stop offset="0.8355" stop-color="#870098"/><stop offset="0.8477" stop-color="#830094"/><stop offset="0.8543" stop-color="#7a008b"/><stop offset="0.9568" stop-color="#770088"/><stop offset="0.9577" stop-color="#700080"/><stop offset="0.9586" stop-color="#700080"/><stop offset="0.9596" stop-color="#670075"/><stop offset="0.9605" stop-color="#670075"/><stop offset="0.9615" stop-color="#5d006b"/><stop offset="0.9633" stop-color="#5d006b"/><stop offset="0.9643" stop-color="#540060"/><stop offset="0.9652" stop-color="#540060"/><stop offset="0.9662" stop-color="#4b0055"/><stop offset="0.9680" stop-color="#4b0055"/><stop offset="0.9690" stop-color="#41004b"/><stop offset="0.9699" stop-color="#41004b"/><stop offset="0.9709" stop-color="#380040"/><stop offset="0.9746" stop-color="#380040"/><stop offset="0.9756" stop-color="#2f0035"/><stop offset="0.9803" stop-color="#2f0035"/><stop offset="0.9812" stop-color="#25002b"/><stop offset="0.9850" stop-color="#25002b"/><stop offset="0.9859" stop-color="#1c0020"/><stop offset="0.9944" stop-color="#1c0020"/><stop offset="0.9953" stop-color="#130015"/><stop offset="1.0000" stop-color="#130015"/></linearGradient><linearGradient id="bd4" gradientUnits="userSpaceOnUse" x1="329.00" y1="0" x2="595.00" y2="0"><stop offset="0.0000" stop-color="#09000b"/><stop offset="0.1974" stop-color="#09000b"/><stop offset="0.1983" stop-color="#2f0035"/><stop offset="0.1992" stop-color="#4b0055"/><stop offset="0.2002" stop-color="#5d006b"/><stop offset="0.2011" stop-color="#5d006b"/><stop offset="0.2030" stop-color="#700080"/><stop offset="0.2039" stop-color="#700080"/><stop offset="0.2058" stop-color="#79008a"/><stop offset="0.2171" stop-color="#7b008c"/><stop offset="0.2190" stop-color="#83009a"/><stop offset="0.2218" stop-color="#63009e"/><stop offset="0.2227" stop-color="#63009e"/><stop offset="0.2237" stop-color="#58009f"/><stop offset="0.2246" stop-color="#58009f"/><stop offset="0.2265" stop-color="#4300a2"/><stop offset="0.2274" stop-color="#2d00a4"/><stop offset="0.2284" stop-color="#0d00a8"/><stop offset="0.2293" stop-color="#0000ad"/><stop offset="0.2303" stop-color="#0000b9"/><stop offset="0.2387" stop-color="#0000c5"/><stop offset="0.2481" stop-color="#0000d1"/><stop offset="0.2491" stop-color="#0000d9"/><stop offset="0.2509" stop-color="#0025dd"/><stop offset="0.2519" stop-color="#002fdd"/><stop offset="0.2547" stop-color="#002fdd"/><stop offset="0.2556" stop-color="#0038dd"/><stop offset="0.2603" stop-color="#0038dd"/><stop offset="0.2613" stop-color="#0041dd"/><stop offset="0.2650" stop-color="#0041dd"/><stop offset="0.2660" stop-color="#004bdd"/><stop offset="0.2697" stop-color="#004bdd"/><stop offset="0.2707" stop-color="#0054dd"/><stop offset="0.2754" stop-color="#0054dd"/><stop offset="0.2763" stop-color="#005ddd"/><stop offset="0.2782" stop-color="#005ddd"/><stop offset="0.2791" stop-color="#0067dd"/><stop offset="0.2801" stop-color="#0078dd"/><stop offset="0.2867" stop-color="#008ddd"/><stop offset="0.3515" stop-color="#009adb"/><stop offset="0.3553" stop-color="#009bd7"/><stop offset="0.3590" stop-color="#009cd3"/><stop offset="0.3628" stop-color="#009fcb"/><stop offset="0.3731" stop-color="#009fcb"/><stop offset="0.3769" stop-color="#00a0c7"/><stop offset="0.3976" stop-color="#00a0c7"/><stop offset="0.4117" stop-color="#00aaab"/><stop offset="0.4211" stop-color="#00aaa3"/><stop offset="0.4624" stop-color="#00aa98"/><stop offset="0.4840" stop-color="#00aa98"/><stop offset="0.5169" stop-color="#00aa9d"/><stop offset="0.5385" stop-color="#00aaa8"/><stop offset="0.5545" stop-color="#00a4bb"/><stop offset="0.5630" stop-color="#009fcb"/><stop offset="0.5742" stop-color="#0098dd"/><stop offset="0.5940" stop-color="#0078dd"/><stop offset="0.5949" stop-color="#0078dd"/><stop offset="0.5959" stop-color="#0070dd"/><stop offset="0.5968" stop-color="#0070dd"/><stop offset="0.5977" stop-color="#0067dd"/><stop offset="0.5987" stop-color="#0067dd"/><stop offset="0.5996" stop-color="#005ddd"/><stop offset="0.6006" stop-color="#005ddd"/><stop offset="0.6015" stop-color="#0054dd"/><stop offset="0.6034" stop-color="#0054dd"/><stop offset="0.6043" stop-color="#004bdd"/><stop offset="0.6118" stop-color="#004bdd"/><stop offset="0.6128" stop-color="#0041dd"/><stop offset="0.6297" stop-color="#0041dd"/><stop offset="0.6306" stop-color="#0038dd"/><stop offset="0.6353" stop-color="#0038dd"/><stop offset="0.6363" stop-color="#002fdd"/><stop offset="0.6382" stop-color="#002fdd"/><stop offset="0.6391" stop-color="#0025dd"/><stop offset="0.6410" stop-color="#0025dd"/><stop offset="0.6419" stop-color="#001cdd"/><stop offset="0.6447" stop-color="#001cdd"/><stop offset="0.6457" stop-color="#0013dd"/><stop offset="0.6476" stop-color="#0013dd"/><stop offset="0.6485" stop-color="#0009dd"/><stop offset="0.6513" stop-color="#0009dd"/><stop offset="0.6523" stop-color="#0000dd"/><stop offset="0.6607" stop-color="#0000d5"/><stop offset="0.6645" stop-color="#0000d1"/><stop offset="0.6758" stop-color="#0000cd"/><stop offset="0.6795" stop-color="#0000c9"/><stop offset="0.6842" stop-color="#0000c9"/><stop offset="0.6880" stop-color="#0000c5"/><stop offset="0.6917" stop-color="#0000c1"/><stop offset="0.7049" stop-color="#0300aa"/><stop offset="0.7058" stop-color="#0d00a8"/><stop offset="0.7068" stop-color="#0d00a8"/><stop offset="0.7077" stop-color="#1800a7"/><stop offset="0.7086" stop-color="#1800a7"/><stop offset="0.7096" stop-color="#2300a6"/><stop offset="0.7115" stop-color="#2300a6"/><stop offset="0.7124" stop-color="#2d00a4"/><stop offset="0.7133" stop-color="#2d00a4"/><stop offset="0.7143" stop-color="#3800a3"/><stop offset="0.7152" stop-color="#3800a3"/><stop offset="0.7162" stop-color="#4300a2"/><stop offset="0.7293" stop-color="#4300a2"/><stop offset="0.7303" stop-color="#4d00a0"/><stop offset="0.7397" stop-color="#4d00a0"/><stop offset="0.7406" stop-color="#4300a2"/><stop offset="0.7415" stop-color="#4300a2"/><stop offset="0.7425" stop-color="#007ddd"/><stop offset="0.7491" stop-color="#007ddd"/><stop offset="0.7500" stop-color="#6d009c"/><stop offset="0.7566" stop-color="#6d009c"/><stop offset="0.7575" stop-color="#58009f"/><stop offset="0.7585" stop-color="#58009f"/><stop offset="0.7594" stop-color="#0000d1"/><stop offset="0.7660" stop-color="#0000d1"/><stop offset="0.7669" stop-color="#2300a6"/><stop offset="0.7697" stop-color="#2300a6"/><stop offset="0.7707" stop-color="#0000c9"/><stop offset="0.7810" stop-color="#0000c9"/><stop offset="0.7820" stop-color="#0054dd"/><stop offset="0.7867" stop-color="#0054dd"/><stop offset="0.7876" stop-color="#58009f"/><stop offset="0.7885" stop-color="#58009f"/><stop offset="0.7895" stop-color="#83009a"/><stop offset="0.7961" stop-color="#83009a"/><stop offset="0.7970" stop-color="#0009dd"/><stop offset="0.8036" stop-color="#0009dd"/><stop offset="0.8045" stop-color="#63009e"/><stop offset="0.8055" stop-color="#63009e"/><stop offset="0.8064" stop-color="#810092"/><stop offset="0.8148" stop-color="#810092"/><stop offset="0.8158" stop-color="#63009e"/><stop offset="0.8167" stop-color="#63009e"/><stop offset="0.8177" stop-color="#78009b"/><stop offset="0.8205" stop-color="#78009b"/><stop offset="0.8214" stop-color="#63009e"/><stop offset="0.8233" stop-color="#63009e"/><stop offset="0.8242" stop-color="#7a008b"/><stop offset="0.8252" stop-color="#700080"/><stop offset="0.8271" stop-color="#700080"/><stop offset="0.8280" stop-color="#670075"/><stop offset="0.8318" stop-color="#670075"/><stop offset="0.8327" stop-color="#5d006b"/><stop offset="0.8374" stop-color="#5d006b"/><stop offset="0.8383" stop-color="#540060"/><stop offset="0.8430" stop-color="#540060"/><stop offset="0.8440" stop-color="#4b0055"/><stop offset="0.8694" stop-color="#4b0055"/><stop offset="0.8703" stop-color="#41004b"/><stop offset="0.9004" stop-color="#41004b"/><stop offset="0.9013" stop-color="#380040"/><stop offset="0.9295" stop-color="#380040"/><stop offset="0.9305" stop-color="#2f0035"/><stop offset="0.9549" stop-color="#2f0035"/><stop offset="0.9558" stop-color="#25002b"/><stop offset="0.9756" stop-color="#25002b"/><stop offset="0.9765" stop-color="#1c0020"/><stop offset="0.9934" stop-color="#1c0020"/><stop offset="0.9944" stop-color="#130015"/><stop offset="1.0000" stop-color="#130015"/></linearGradient><linearGradient id="bd5" gradientUnits="userSpaceOnUse" x1="329.00" y1="0" x2="595.00" y2="0"><stop offset="0.0000" stop-color="#09000b"/><stop offset="0.1936" stop-color="#09000b"/><stop offset="0.1945" stop-color="#670075"/><stop offset="0.1955" stop-color="#79008a"/><stop offset="0.2021" stop-color="#7f0090"/><stop offset="0.2030" stop-color="#850096"/><stop offset="0.2039" stop-color="#6d009c"/><stop offset="0.2049" stop-color="#3800a3"/><stop offset="0.2058" stop-color="#0d00a8"/><stop offset="0.2068" stop-color="#0000c1"/><stop offset="0.2077" stop-color="#0000dd"/><stop offset="0.2096" stop-color="#007ddd"/><stop offset="0.2105" stop-color="#0090dd"/><stop offset="0.2115" stop-color="#009ecf"/><stop offset="0.2133" stop-color="#00a7b3"/><stop offset="0.2171" stop-color="#00aa8d"/><stop offset="0.2180" stop-color="#00a97d"/><stop offset="0.2190" stop-color="#00a55d"/><stop offset="0.2218" stop-color="#009d1d"/><stop offset="0.2227" stop-color="#009b13"/><stop offset="0.2237" stop-color="#009a00"/><stop offset="0.2350" stop-color="#00cf00"/><stop offset="0.2462" stop-color="#00fc00"/><stop offset="0.2481" stop-color="#1dff00"/><stop offset="0.2491" stop-color="#58ff00"/><stop offset="0.2500" stop-color="#84ff00"/><stop offset="0.2509" stop-color="#bcff00"/><stop offset="0.2547" stop-color="#c0fd00"/><stop offset="0.2726" stop-color="#c0fd00"/><stop offset="0.2763" stop-color="#c4fc00"/><stop offset="0.3045" stop-color="#c4fc00"/><stop offset="0.3083" stop-color="#c8fb00"/><stop offset="0.3374" stop-color="#c8fb00"/><stop offset="0.3412" stop-color="#ccf900"/><stop offset="0.3694" stop-color="#ccf900"/><stop offset="0.3731" stop-color="#d0f800"/><stop offset="0.3947" stop-color="#d0f800"/><stop offset="0.3985" stop-color="#ccf900"/><stop offset="0.4812" stop-color="#ccf900"/><stop offset="0.4850" stop-color="#c8fb00"/><stop offset="0.5451" stop-color="#c8fb00"/><stop offset="0.5461" stop-color="#c0fd00"/><stop offset="0.5470" stop-color="#b0ff00"/><stop offset="0.5498" stop-color="#58ff00"/><stop offset="0.5508" stop-color="#58ff00"/><stop offset="0.5526" stop-color="#3bff00"/><stop offset="0.5536" stop-color="#3bff00"/><stop offset="0.5555" stop-color="#1dff00"/><stop offset="0.5564" stop-color="#1dff00"/><stop offset="0.5573" stop-color="#0fff00"/><stop offset="0.5583" stop-color="#0fff00"/><stop offset="0.5592" stop-color="#00ff00"/><stop offset="0.5695" stop-color="#00ef00"/><stop offset="0.6081" stop-color="#00d400"/><stop offset="0.6410" stop-color="#00c700"/><stop offset="0.6701" stop-color="#009c00"/><stop offset="0.6936" stop-color="#009a00"/><stop offset="0.6945" stop-color="#009a08"/><stop offset="0.7086" stop-color="#009a08"/><stop offset="0.7096" stop-color="#009b13"/><stop offset="0.7237" stop-color="#009b13"/><stop offset="0.7246" stop-color="#009d1d"/><stop offset="0.7265" stop-color="#009d1d"/><stop offset="0.7293" stop-color="#00a55d"/><stop offset="0.7303" stop-color="#00a97d"/><stop offset="0.7321" stop-color="#00aa93"/><stop offset="0.7368" stop-color="#00a7b3"/><stop offset="0.7415" stop-color="#009bd7"/><stop offset="0.7453" stop-color="#009adb"/><stop offset="0.7491" stop-color="#009adb"/><stop offset="0.7500" stop-color="#0041dd"/><stop offset="0.7528" stop-color="#0041dd"/><stop offset="0.7538" stop-color="#0098dd"/><stop offset="0.7641" stop-color="#0095dd"/><stop offset="0.7650" stop-color="#00a7b3"/><stop offset="0.7679" stop-color="#00a7b3"/><stop offset="0.7688" stop-color="#0095dd"/><stop offset="0.7754" stop-color="#0092dd"/><stop offset="0.7763" stop-color="#0041dd"/><stop offset="0.7791" stop-color="#0041dd"/><stop offset="0.7801" stop-color="#0092dd"/><stop offset="0.7904" stop-color="#0090dd"/><stop offset="0.7914" stop-color="#0000d1"/><stop offset="0.7942" stop-color="#0000d1"/><stop offset="0.7951" stop-color="#008ddd"/><stop offset="0.8017" stop-color="#008add"/><stop offset="0.8026" stop-color="#009fcb"/><stop offset="0.8055" stop-color="#009fcb"/><stop offset="0.8064" stop-color="#008add"/><stop offset="0.8205" stop-color="#0088dd"/><stop offset="0.8214" stop-color="#005ddd"/><stop offset="0.8224" stop-color="#0000d9"/><stop offset="0.8233" stop-color="#0300aa"/><stop offset="0.8271" stop-color="#0300aa"/><stop offset="0.8280" stop-color="#0d00a8"/><stop offset="0.8327" stop-color="#0d00a8"/><stop offset="0.8336" stop-color="#1800a7"/><stop offset="0.8374" stop-color="#1800a7"/><stop offset="0.8383" stop-color="#2300a6"/><stop offset="0.8430" stop-color="#2300a6"/><stop offset="0.8440" stop-color="#4d00a0"/><stop offset="0.8449" stop-color="#6d009c"/><stop offset="0.8459" stop-color="#860097"/><stop offset="0.8487" stop-color="#7f0090"/><stop offset="0.9756" stop-color="#7a008b"/><stop offset="0.9793" stop-color="#770088"/><stop offset="0.9803" stop-color="#700080"/><stop offset="0.9812" stop-color="#700080"/><stop offset="0.9821" stop-color="#670075"/><stop offset="0.9831" stop-color="#670075"/><stop offset="0.9840" stop-color="#5d006b"/><stop offset="0.9850" stop-color="#5d006b"/><stop offset="0.9859" stop-color="#540060"/><stop offset="0.9868" stop-color="#540060"/><stop offset="0.9878" stop-color="#4b0055"/><stop offset="0.9897" stop-color="#4b0055"/><stop offset="0.9906" stop-color="#41004b"/><stop offset="0.9915" stop-color="#41004b"/><stop offset="0.9925" stop-color="#380040"/><stop offset="0.9934" stop-color="#380040"/><stop offset="0.9944" stop-color="#2f0035"/><stop offset="0.9962" stop-color="#2f0035"/><stop offset="0.9972" stop-color="#25002b"/><stop offset="0.9981" stop-color="#25002b"/><stop offset="0.9991" stop-color="#1c0020"/><stop offset="1.0000" stop-color="#1c0020"/></linearGradient></defs><rect width="640" height="440" fill="#fff"/><rect x="48.00" y="28.00" width="267.00" height="17.90" fill="url(#gLON)"/><rect x="48.00" y="44.70" width="267.00" height="17.90" fill="url(#gLBLK)"/><rect x="48.00" y="61.41" width="267.00" height="17.90" fill="url(#gLOFF)"/><rect x="48.00" y="78.11" width="267.00" height="17.90" fill="url(#gLGAP)"/><rect x="48.00" y="94.82" width="267.00" height="17.90" fill="url(#gLGAO)"/><rect x="48.00" y="111.52" width="267.00" height="17.90" fill="url(#gLGN)"/><rect x="48.00" y="128.23" width="267.00" height="17.90" fill="url(#gLGA)"/><rect x="48.00" y="144.93" width="267.00" height="17.90" fill="url(#gLGA)"/><rect x="48.00" y="161.64" width="267.00" height="17.90" fill="url(#gLGA)"/><rect x="48.00" y="178.34" width="267.00" height="17.90" fill="url(#gLGA)"/><rect x="48.00" y="195.05" width="267.00" height="17.90" fill="url(#gLGA)"/><rect x="48.00" y="211.75" width="267.00" height="17.90" fill="url(#gLGB)"/><rect x="48.00" y="228.45" width="267.00" height="17.90" fill="url(#gLGA)"/><rect x="48.00" y="245.16" width="267.00" height="17.90" fill="url(#gLGB)"/><rect x="48.00" y="261.86" width="267.00" height="17.90" fill="url(#gLGA)"/><rect x="48.00" y="278.57" width="267.00" height="17.90" fill="url(#gLGA)"/><rect x="48.00" y="295.27" width="267.00" height="17.90" fill="url(#gLGA3)"/><rect x="48.00" y="311.98" width="267.00" height="17.90" fill="url(#gLGA)"/><rect x="48.00" y="328.68" width="267.00" height="17.90" fill="url(#gLGA2)"/><rect x="48.00" y="345.39" width="267.00" height="17.90" fill="url(#gLOFF)"/><rect x="48.00" y="362.09" width="267.00" height="17.90" fill="url(#gLON2)"/><rect x="48.00" y="378.80" width="267.00" height="16.70" fill="url(#gLON2)"/><rect x="329.00" y="28.00" width="266.00" height="17.90" fill="url(#gRON)"/><rect x="329.00" y="44.70" width="266.00" height="17.90" fill="url(#gRON)"/><rect x="329.00" y="61.41" width="266.00" height="17.90" fill="url(#gROFF)"/><rect x="329.00" y="78.11" width="266.00" height="17.90" fill="url(#gRGRA)"/><rect x="329.00" y="94.82" width="266.00" height="17.90" fill="url(#gRGRA)"/><rect x="329.00" y="111.52" width="266.00" height="17.90" fill="url(#gRGRA)"/><rect x="329.00" y="128.23" width="266.00" height="17.90" fill="url(#gRGRA)"/><rect x="329.00" y="144.93" width="266.00" height="17.90" fill="url(#gRGRA)"/><rect x="329.00" y="161.64" width="266.00" height="17.90" fill="url(#gRGRA)"/><rect x="329.00" y="178.34" width="266.00" height="17.90" fill="url(#gRGRA)"/><rect x="329.00" y="195.05" width="266.00" height="17.90" fill="url(#gRGRA)"/><rect x="329.00" y="211.75" width="266.00" height="17.90" fill="url(#gRGRB)"/><rect x="329.00" y="228.45" width="266.00" height="17.90" fill="url(#gRGRA)"/><rect x="329.00" y="245.16" width="266.00" height="17.90" fill="url(#gRGRB)"/><rect x="329.00" y="261.86" width="266.00" height="17.90" fill="url(#gRGRA)"/><rect x="329.00" y="278.57" width="266.00" height="17.90" fill="url(#gRGRA)"/><rect x="329.00" y="295.27" width="266.00" height="17.90" fill="url(#gRGRC)"/><rect x="329.00" y="311.98" width="266.00" height="17.90" fill="url(#gRGRA)"/><rect x="329.00" y="328.68" width="266.00" height="17.90" fill="url(#gRGRA)"/><rect x="329.00" y="345.39" width="266.00" height="17.90" fill="url(#gROFF)"/><rect x="329.00" y="362.09" width="266.00" height="17.90" fill="url(#gRBLK)"/><rect x="329.00" y="378.80" width="266.00" height="16.70" fill="url(#gRON2)"/><rect x="48.00" y="44.20" width="267.00" height="1" fill="url(#bd0)"/><rect x="48.00" y="344.89" width="267.00" height="1" fill="url(#bd1)"/><rect x="48.00" y="361.59" width="267.00" height="1" fill="url(#bd2)"/><rect x="329.00" y="60.91" width="266.00" height="1" fill="url(#bd3)"/><rect x="329.00" y="344.89" width="266.00" height="1" fill="url(#bd4)"/><rect x="329.00" y="378.30" width="266.00" height="1" fill="url(#bd5)"/><rect x="48" y="28.00" width="1" height="16.70" fill="#0090d0"/><rect x="48" y="44.70" width="1" height="16.70" fill="#900090"/><rect x="48" y="61.41" width="1" height="16.70" fill="#00a080"/><rect x="48" y="78.11" width="1" height="16.70" fill="#0000c0"/><rect x="48" y="94.82" width="1" height="16.70" fill="#0000c0"/><rect x="48" y="111.52" width="1" height="16.70" fill="#900090"/><rect x="48" y="128.23" width="1" height="16.70" fill="#3000b0"/><rect x="48" y="144.93" width="1" height="16.70" fill="#900090"/><rect x="48" y="161.64" width="1" height="16.70" fill="#4000b0"/><rect x="48" y="178.34" width="1" height="16.70" fill="#0000c0"/><rect x="48" y="195.05" width="1" height="16.70" fill="#0000c0"/><rect x="48" y="278.57" width="1" height="16.70" fill="#800090"/><rect x="48" y="295.27" width="1" height="16.70" fill="#5000a0"/><rect x="48" y="311.98" width="1" height="16.70" fill="#800090"/><rect x="48" y="328.68" width="1" height="16.70" fill="#800090"/><rect x="48" y="345.39" width="1" height="16.70" fill="#00a080"/><rect x="48" y="362.09" width="1" height="16.70" fill="#800090"/><rect x="48" y="378.80" width="1" height="16.70" fill="#0060d0"/><rect x="329" y="280.57" width="1" height="14.70" fill="#800090"/><rect x="329" y="295.27" width="1" height="16.70" fill="#800090"/><rect x="329" y="311.98" width="1" height="16.70" fill="#800090"/><rect x="329" y="328.68" width="1" height="16.70" fill="#800090"/><rect x="329" y="345.39" width="1" height="16.70" fill="#800090"/><rect x="329" y="378.80" width="1" height="16.70" fill="#800090"/><rect x="160.20" y="158.00" width="1.20" height="70.40" fill="#f4f400"/><rect x="152.90" y="211.75" width="1.00" height="16.70" fill="#b8f000"/><rect x="155.30" y="245.16" width="1.00" height="16.70" fill="#c0f000"/><rect x="147.70" y="261.86" width="1.00" height="16.70" fill="#e8e000"/><rect x="151.90" y="296.27" width="1.40" height="14.70" fill="#ff8800"/><rect x="440.20" y="150.00" width="1.20" height="78.40" fill="#f4f400"/><rect x="432.75" y="212.75" width="1.30" height="14.70" fill="#ff5000"/><rect x="435.30" y="245.16" width="1.00" height="16.70" fill="#c8f000"/><rect x="427.70" y="261.86" width="1.00" height="16.70" fill="#e8e000"/><polyline points="48.8,283.5 102.0,283.5" fill="none" stroke="#fff" stroke-width="3.00" stroke-linejoin="round" stroke-linecap="round" /><polyline points="48.8,215.0 48.8,283.5" fill="none" stroke="#fff" stroke-width="2.00" stroke-linejoin="round" stroke-linecap="round" /><polyline points="101.0,283.5 103.0,280.9 104.5,273.9 106.0,260.5 107.3,246.0 108.3,229.6 109.3,215.3 110.7,202.7 112.7,191.0 115.5,180.9 119.5,173.0 125.0,168.0 131.0,164.0 136.0,161.0 141.0,157.0 146.0,152.0 151.0,146.0 156.0,140.0 160.5,134.0 164.5,127.0 169.0,122.0 173.0,119.5 176.5,118.5 179.5,121.0 182.0,124.0 185.0,122.5 187.5,124.0 190.0,130.0 193.0,137.3 197.0,144.8 201.0,153.2 205.0,161.7 209.0,169.8 213.0,178.8 217.0,186.9 221.0,194.0 227.0,204.1 233.0,213.2 238.0,221.3 242.0,229.3 245.0,237.4" fill="none" stroke="#fff" stroke-width="2.70" stroke-linejoin="round" stroke-linecap="round" /><polyline points="101.0,283.5 103.0,281.1 104.5,274.4 106.0,261.1 107.3,246.8 108.3,230.6 109.3,216.4 110.7,204.0 112.7,192.6 115.5,183.0 119.5,175.4 125.0,170.4 131.0,166.4 136.0,163.4 141.0,159.4 146.0,154.4 151.0,148.4 156.0,142.4 160.5,136.4 164.5,129.4 169.0,124.4 173.0,121.9 176.5,120.9 179.5,123.4 182.0,126.4 185.0,124.9 187.5,126.4 190.0,132.4 193.0,139.6 197.0,146.9 201.0,155.1 205.0,163.4 209.0,171.5 213.0,180.5 217.0,188.5 221.0,195.6 227.0,205.6 233.0,214.7 238.0,222.8 242.0,230.8 245.0,238.8" fill="none" stroke="#fff" stroke-width="2.70" stroke-linejoin="round" stroke-linecap="round" /><polyline points="101.0,283.5 103.0,281.4 104.5,274.8 106.0,261.7 107.3,247.6 108.3,231.5 109.3,217.5 110.7,205.3 112.7,194.2 115.5,185.0 119.5,177.8 125.0,172.8 131.0,168.8 136.0,165.8 141.0,161.8 146.0,156.8 151.0,150.8 156.0,144.8 160.5,138.8 164.5,131.8 169.0,126.8 173.0,124.3 176.5,123.3 179.5,125.8 182.0,128.8 185.0,127.3 187.5,128.8 190.0,134.8 193.0,141.9 197.0,149.0 201.0,157.0 205.0,165.1 209.0,173.2 213.0,182.2 217.0,190.2 221.0,197.2 227.0,207.2 233.0,216.2 238.0,224.3 242.0,232.3 245.0,240.3" fill="none" stroke="#fff" stroke-width="2.70" stroke-linejoin="round" stroke-linecap="round" /><polyline points="101.0,283.5 103.0,281.6 104.5,275.2 106.0,262.3 107.3,248.4 108.3,232.5 109.3,218.5 110.7,206.7 112.7,195.8 115.5,187.0 119.5,180.2 125.0,175.2 131.0,171.2 136.0,168.2 141.0,164.2 146.0,159.2 151.0,153.2 156.0,147.2 160.5,141.2 164.5,134.2 169.0,129.2 173.0,126.7 176.5,125.7 179.5,128.2 182.0,131.2 185.0,129.7 187.5,131.2 190.0,137.2 193.0,144.1 197.0,151.0 201.0,159.0 205.0,166.9 209.0,174.8 213.0,183.8 217.0,191.8 221.0,198.8 227.0,208.8 233.0,217.8 238.0,225.7 242.0,233.7 245.0,241.7" fill="none" stroke="#fff" stroke-width="2.70" stroke-linejoin="round" stroke-linecap="round" /><polyline points="101.0,283.5 103.0,281.9 104.5,275.6 106.0,262.9 107.3,249.2 108.3,233.4 109.3,219.6 110.7,208.0 112.7,197.4 115.5,189.0 119.5,182.6 125.0,177.6 131.0,173.6 136.0,170.6 141.0,166.6 146.0,161.6 151.0,155.6 156.0,149.6 160.5,143.6 164.5,136.6 169.0,131.6 173.0,129.1 176.5,128.1 179.5,130.6 182.0,133.6 185.0,132.1 187.5,133.6 190.0,139.6 193.0,146.4 197.0,153.1 201.0,160.9 205.0,168.6 209.0,176.5 213.0,185.5 217.0,193.5 221.0,200.4 227.0,210.4 233.0,219.3 238.0,227.2 242.0,235.2 245.0,243.2" fill="none" stroke="#fff" stroke-width="2.70" stroke-linejoin="round" stroke-linecap="round" /><polyline points="101.0,283.5 103.0,282.1 104.5,276.1 106.0,263.5 107.3,250.0 108.3,234.4 109.3,220.7 110.7,209.3 112.7,199.0 115.5,191.1 119.5,185.0 125.0,180.0 131.0,176.0 136.0,173.0 141.0,169.0 146.0,164.0 151.0,158.0 156.0,152.0 160.5,146.0 164.5,139.0 169.0,134.0 173.0,131.5 176.5,130.5 179.5,133.0 182.0,136.0 185.0,134.5 187.5,136.0 190.0,142.0 193.0,148.7 197.0,155.2 201.0,162.8 205.0,170.3 209.0,178.2 213.0,187.2 217.0,195.1 221.0,202.0 227.0,211.9 233.0,220.8 238.0,228.7 242.0,236.7 245.0,244.6" fill="none" stroke="#fff" stroke-width="2.70" stroke-linejoin="round" stroke-linecap="round" /><polyline points="109.5,210.0 111.5,195.0 114.0,180.0 117.5,165.0 121.5,154.0 125.0,148.0 127.6,144.8 130.7,143.7 135.8,145.8 139.9,144.8 145.0,142.7 149.0,140.7 153.0,140.0 158.0,141.0 162.0,139.0" fill="none" stroke="#fff" stroke-width="1.80" stroke-linejoin="round" stroke-linecap="round" /><polyline points="110.5,210.0 112.5,196.0 115.0,183.0 118.5,170.0 122.0,161.0 125.5,154.0 128.0,150.5 131.0,149.2 136.0,151.3 140.0,150.3 145.0,148.2 149.0,146.2 153.0,145.5 158.0,145.0 162.0,141.0" fill="none" stroke="#fff" stroke-width="1.80" stroke-linejoin="round" stroke-linecap="round" /><polyline points="111.5,210.0 113.5,198.0 116.0,187.0 119.5,176.0 123.0,167.0 126.0,161.0 128.5,156.5 131.5,155.0 136.0,157.0 140.0,156.0 145.0,154.0 149.0,152.0 153.0,150.0 158.0,147.0 162.0,143.0" fill="none" stroke="#fff" stroke-width="1.80" stroke-linejoin="round" stroke-linecap="round" /><polyline points="153.0,152.0 153.0,44.5" fill="none" stroke="#fff" stroke-width="2.40" stroke-linejoin="round" stroke-linecap="round" /><polyline points="148.5,156.0 148.5,81.0" fill="none" stroke="#fff" stroke-width="2.20" stroke-linejoin="round" stroke-linecap="round" /><polyline points="160.5,144.0 160.5,79.0" fill="none" stroke="#fff" stroke-width="2.20" stroke-linejoin="round" stroke-linecap="round" /><polyline points="150.8,154.0 150.8,120.0" fill="none" stroke="#fff" stroke-width="1.60" stroke-linejoin="round" stroke-linecap="round" /><polyline points="156.0,150.0 156.0,118.0" fill="none" stroke="#fff" stroke-width="1.60" stroke-linejoin="round" stroke-linecap="round" /><polygon points="244.0,241.0 245.5,146.0 249.3,146.0 250.0,185.0 253.5,185.0 254.5,166.0 257.5,164.0 259.0,172.0 261.0,177.0 263.3,177.0 264.0,205.0 265.0,234.0 267.0,232.0 268.5,234.0 268.5,262.0 266.5,262.0 264.5,258.0 262.5,259.0 260.5,251.0 258.0,257.0 255.5,248.0 253.0,241.0 250.0,249.0 247.0,237.0 244.5,244.0" fill="#fff" stroke="#fff" stroke-width="1" stroke-linejoin="round"/><polyline points="267.5,233.0 268.3,262.0 270.0,270.0 273.0,273.5 280.7,276.5 290.0,278.0 294.8,277.3 299.5,279.3 304.2,281.3 308.9,283.0 316.0,284.5" fill="none" stroke="#fff" stroke-width="4.00" stroke-linejoin="round" stroke-linecap="round" /><polyline points="329.5,283.5 383.0,283.5" fill="none" stroke="#fff" stroke-width="3.00" stroke-linejoin="round" stroke-linecap="round" /><rect x="329" y="28" width="1.6" height="255.5" fill="#fff"/><polyline points="382.5,283.4 384.5,278.4 386.3,263.0 388.3,240.4 390.5,219.8 393.0,202.0 396.0,188.1 400.0,175.2 406.0,162.2 413.0,160.7 421.0,157.2 428.0,152.7 433.0,149.2 437.5,144.7 440.5,137.2 443.6,131.2 447.7,127.2 451.8,127.2 456.6,124.2 460.7,127.2 466.0,126.7 469.5,131.2 472.2,136.2 477.0,141.2 480.4,147.2 484.5,153.2 488.6,160.2 493.0,170.2 498.0,183.2 504.0,194.2 510.0,205.2 515.0,215.2 520.0,227.2 525.6,240.2" fill="none" stroke="#fff" stroke-width="2.60" stroke-linejoin="round" stroke-linecap="round" /><polyline points="382.5,283.4 384.5,278.7 386.3,263.5 388.3,241.2 390.5,220.9 393.0,203.5 396.0,190.1 400.0,177.6 406.0,164.6 413.0,163.1 421.0,159.6 428.0,155.1 433.0,151.6 437.5,147.1 440.5,139.6 443.6,133.6 447.7,129.6 451.8,129.6 456.6,126.6 460.7,129.6 466.0,129.1 469.5,133.6 472.2,138.6 477.0,143.6 480.4,149.6 484.5,155.6 488.6,162.6 493.0,172.6 498.0,185.6 504.0,196.6 510.0,207.6 515.0,217.6 520.0,229.6 525.6,242.6" fill="none" stroke="#fff" stroke-width="2.60" stroke-linejoin="round" stroke-linecap="round" /><polyline points="382.5,283.5 384.5,279.0 386.3,264.0 388.3,242.0 390.5,222.0 393.0,205.0 396.0,192.0 400.0,180.0 406.0,167.0 413.0,165.5 421.0,162.0 428.0,157.5 433.0,154.0 437.5,149.5 440.5,142.0 443.6,136.0 447.7,132.0 451.8,132.0 456.6,129.0 460.7,132.0 466.0,131.5 469.5,136.0 472.2,141.0 477.0,146.0 480.4,152.0 484.5,158.0 488.6,165.0 493.0,175.0 498.0,188.0 504.0,199.0 510.0,210.0 515.0,220.0 520.0,232.0 525.6,245.0" fill="none" stroke="#fff" stroke-width="2.60" stroke-linejoin="round" stroke-linecap="round" /><polyline points="382.5,283.6 384.5,279.3 386.3,264.5 388.3,242.8 390.5,223.1 393.0,206.5 396.0,193.9 400.0,182.4 406.0,169.4 413.0,167.9 421.0,164.4 428.0,159.9 433.0,156.4 437.5,151.9 440.5,144.4 443.6,138.4 447.7,134.4 451.8,134.4 456.6,131.4 460.7,134.4 466.0,133.9 469.5,138.4 472.2,143.4 477.0,148.4 480.4,154.4 484.5,160.4 488.6,167.4 493.0,177.4 498.0,190.4 504.0,201.4 510.0,212.4 515.0,222.4 520.0,234.4 525.6,247.4" fill="none" stroke="#fff" stroke-width="2.60" stroke-linejoin="round" stroke-linecap="round" /><polyline points="382.5,283.6 384.5,279.6 386.3,265.0 388.3,243.6 390.5,224.2 393.0,208.0 396.0,195.9 400.0,184.8 406.0,171.8 413.0,170.3 421.0,166.8 428.0,162.3 433.0,158.8 437.5,154.3 440.5,146.8 443.6,140.8 447.7,136.8 451.8,136.8 456.6,133.8 460.7,136.8 466.0,136.3 469.5,140.8 472.2,145.8 477.0,150.8 480.4,156.8 484.5,162.8 488.6,169.8 493.0,179.8 498.0,192.8 504.0,203.8 510.0,214.8 515.0,224.8 520.0,236.8 525.6,249.8" fill="none" stroke="#fff" stroke-width="2.60" stroke-linejoin="round" stroke-linecap="round" /><polyline points="385.0,283.0 388.0,255.0 391.0,225.0 393.0,205.0 396.5,185.0 400.1,160.0 404.1,148.0 408.9,136.5 412.9,141.0 415.3,141.7 419.2,144.1 422.4,148.9 424.8,150.2 428.0,148.9 433.0,148.0" fill="none" stroke="#fff" stroke-width="2.00" stroke-linejoin="round" stroke-linecap="round" /><polyline points="443.0,140.0 446.3,140.0 450.4,138.6 455.2,137.9 457.2,139.3 461.3,142.7 464.1,143.4 466.8,142.0 470.9,148.1 473.6,152.2 477.0,153.6 481.8,160.4 485.9,167.2 490.0,174.0 495.0,184.0 500.0,194.0 505.0,203.0 510.0,213.0 515.0,222.0 520.0,234.0 525.0,245.0" fill="none" stroke="#fff" stroke-width="2.00" stroke-linejoin="round" stroke-linecap="round" /><polyline points="434.2,150.0 434.2,29.5" fill="none" stroke="#fff" stroke-width="2.40" stroke-linejoin="round" stroke-linecap="round" /><polyline points="441.7,140.0 441.7,53.0" fill="none" stroke="#fff" stroke-width="3.00" stroke-linejoin="round" stroke-linecap="round" /><polyline points="429.0,155.0 429.0,86.0" fill="none" stroke="#fff" stroke-width="2.80" stroke-linejoin="round" stroke-linecap="round" /><polygon points="428.0,152.0 428.0,120.0 430.5,124.0 432.0,118.0 433.0,110.0 435.3,110.0 436.5,118.0 438.0,124.0 439.0,135.0 439.4,142.0 436.0,152.0" fill="#fff" stroke="#fff" stroke-width="1" stroke-linejoin="round"/><polyline points="434.2,150.0 434.2,75.0" fill="none" stroke="#fff" stroke-width="3.00" stroke-linejoin="round" stroke-linecap="round" /><polygon points="525.0,246.0 526.0,128.0 529.2,128.0 530.5,140.0 533.2,140.0 534.0,156.0 537.0,155.5 540.0,154.5 543.0,156.0 545.0,160.0 547.5,170.0 548.7,185.0 548.7,226.0 545.0,228.0 543.0,238.0 541.0,243.0 537.5,243.0 536.5,214.0 535.0,214.0 534.0,205.0 532.0,203.0 530.0,205.0 528.5,248.0 526.0,248.0" fill="#fff" stroke="#fff" stroke-width="1" stroke-linejoin="round"/><polyline points="549.5,215.0 550.2,262.0 552.0,270.0 556.0,273.5 561.5,276.5 571.6,277.8 575.7,277.0 581.8,279.0 590.0,282.0 596.0,283.5" fill="none" stroke="#fff" stroke-width="3.40" stroke-linejoin="round" stroke-linecap="round" /><text transform="translate(31.80 41.95) scale(1 1.100)" font-size="13.00" fill="#000" text-anchor="end">On</text><text transform="translate(611.90 41.95) scale(1 1.100)" font-size="13.00" fill="#000">On</text><text transform="translate(31.80 58.66) scale(1 1.100)" font-size="13.00" fill="#000" text-anchor="end">Y</text><text transform="translate(611.90 58.66) scale(1 1.100)" font-size="13.00" fill="#000">Y</text><text transform="translate(31.80 75.36) scale(1 1.100)" font-size="13.00" fill="#000" text-anchor="end">Off</text><text transform="translate(611.90 75.36) scale(1 1.100)" font-size="13.00" fill="#000">Off</text><text transform="translate(31.80 92.07) scale(1 1.100)" font-size="13.00" fill="#000" text-anchor="end">P</text><text transform="translate(611.90 92.07) scale(1 1.100)" font-size="13.00" fill="#000">P</text><text transform="translate(31.80 108.77) scale(1 1.100)" font-size="13.00" fill="#000" text-anchor="end">O</text><text transform="translate(611.90 108.77) scale(1 1.100)" font-size="13.00" fill="#000">O</text><text transform="translate(31.80 125.47) scale(1 1.100)" font-size="13.00" fill="#000" text-anchor="end">N</text><text transform="translate(611.90 125.47) scale(1 1.100)" font-size="13.00" fill="#000">N</text><text transform="translate(31.80 142.18) scale(1 1.100)" font-size="13.00" fill="#000" text-anchor="end">M</text><text transform="translate(611.90 142.18) scale(1 1.100)" font-size="13.00" fill="#000">M</text><text transform="translate(31.80 158.88) scale(1 1.100)" font-size="13.00" fill="#000" text-anchor="end">L</text><text transform="translate(611.90 158.88) scale(1 1.100)" font-size="13.00" fill="#000">L</text><text transform="translate(31.80 175.59) scale(1 1.100)" font-size="13.00" fill="#000" text-anchor="end">K</text><text transform="translate(611.90 175.59) scale(1 1.100)" font-size="13.00" fill="#000">K</text><text transform="translate(31.80 192.29) scale(1 1.100)" font-size="13.00" fill="#000" text-anchor="end">J</text><text transform="translate(611.90 192.29) scale(1 1.100)" font-size="13.00" fill="#000">J</text><text transform="translate(31.80 209.00) scale(1 1.100)" font-size="13.00" fill="#000" text-anchor="end">I</text><text transform="translate(611.90 209.00) scale(1 1.100)" font-size="13.00" fill="#000">I</text><text transform="translate(31.80 225.70) scale(1 1.100)" font-size="13.00" fill="#000" text-anchor="end">H</text><text transform="translate(611.90 225.70) scale(1 1.100)" font-size="13.00" fill="#000">H</text><text transform="translate(31.80 242.41) scale(1 1.100)" font-size="13.00" fill="#000" text-anchor="end">G</text><text transform="translate(611.90 242.41) scale(1 1.100)" font-size="13.00" fill="#000">G</text><text transform="translate(31.80 259.11) scale(1 1.100)" font-size="13.00" fill="#000" text-anchor="end">F</text><text transform="translate(611.90 259.11) scale(1 1.100)" font-size="13.00" fill="#000">F</text><text transform="translate(19.1 259.11) scale(1.05 1.1)" font-size="13" text-anchor="end">**</text><text transform="translate(31.80 275.82) scale(1 1.100)" font-size="13.00" fill="#000" text-anchor="end">E</text><text transform="translate(611.90 275.82) scale(1 1.100)" font-size="13.00" fill="#000">E</text><text transform="translate(31.80 292.52) scale(1 1.100)" font-size="13.00" fill="#000" text-anchor="end">D</text><text transform="translate(611.90 292.52) scale(1 1.100)" font-size="13.00" fill="#000">D</text><text transform="translate(31.80 309.23) scale(1 1.100)" font-size="13.00" fill="#000" text-anchor="end">C</text><text transform="translate(611.40 309.23) scale(1 1.100)" font-size="13.00" fill="#000">C</text><text transform="translate(624.6 309.23) scale(1.12 1.1)" font-size="13">**</text><text transform="translate(31.80 325.93) scale(1 1.100)" font-size="13.00" fill="#000" text-anchor="end">B</text><text transform="translate(611.90 325.93) scale(1 1.100)" font-size="13.00" fill="#000">B</text><text transform="translate(31.80 342.63) scale(1 1.100)" font-size="13.00" fill="#000" text-anchor="end">A</text><text transform="translate(611.90 342.63) scale(1 1.100)" font-size="13.00" fill="#000">A</text><text transform="translate(31.80 359.34) scale(1 1.100)" font-size="13.00" fill="#000" text-anchor="end">Off</text><text transform="translate(611.90 359.34) scale(1 1.100)" font-size="13.00" fill="#000">Off</text><text transform="translate(31.80 376.04) scale(1 1.100)" font-size="13.00" fill="#000" text-anchor="end">X</text><text transform="translate(611.90 376.04) scale(1 1.100)" font-size="13.00" fill="#000">X</text><text transform="translate(31.80 392.75) scale(1 1.100)" font-size="13.00" fill="#000" text-anchor="end">On</text><text transform="translate(611.90 392.75) scale(1 1.100)" font-size="13.00" fill="#000">On</text><line x1="69.3" y1="43.90" x2="74.3" y2="43.90" stroke="#fff" stroke-width="1"/><text transform="translate(79.50 48.70) scale(1 1.100)" font-size="13.00" fill="#fff">25</text><line x1="69.3" y1="92.10" x2="74.3" y2="92.10" stroke="#fff" stroke-width="1"/><text transform="translate(79.50 96.90) scale(1 1.100)" font-size="13.00" fill="#fff">20</text><line x1="69.3" y1="140.30" x2="74.3" y2="140.30" stroke="#fff" stroke-width="1"/><text transform="translate(79.50 145.10) scale(1 1.100)" font-size="13.00" fill="#fff">15</text><line x1="69.3" y1="188.50" x2="74.3" y2="188.50" stroke="#fff" stroke-width="1"/><text transform="translate(79.50 193.30) scale(1 1.100)" font-size="13.00" fill="#fff">10</text><line x1="69.3" y1="236.70" x2="74.3" y2="236.70" stroke="#fff" stroke-width="1"/><text transform="translate(79.50 241.50) scale(1 1.100)" font-size="13.00" fill="#fff">5</text><text transform="translate(80.30 289.70) scale(1 1.100)" font-size="13.00" fill="#fff">0</text><line x1="350.5" y1="43.90" x2="355.5" y2="43.90" stroke="#fff" stroke-width="1"/><text transform="translate(360.00 48.70) scale(1 1.100)" font-size="13.00" fill="#fff">25</text><line x1="350.5" y1="92.10" x2="355.5" y2="92.10" stroke="#fff" stroke-width="1"/><text transform="translate(360.00 96.90) scale(1 1.100)" font-size="13.00" fill="#fff">20</text><line x1="350.5" y1="140.30" x2="355.5" y2="140.30" stroke="#fff" stroke-width="1"/><text transform="translate(360.00 145.10) scale(1 1.100)" font-size="13.00" fill="#fff">15</text><line x1="350.5" y1="188.50" x2="355.5" y2="188.50" stroke="#fff" stroke-width="1"/><text transform="translate(360.00 193.30) scale(1 1.100)" font-size="13.00" fill="#fff">10</text><line x1="350.5" y1="236.70" x2="355.5" y2="236.70" stroke="#fff" stroke-width="1"/><text transform="translate(360.00 241.50) scale(1 1.100)" font-size="13.00" fill="#fff">5</text><text transform="translate(360.80 289.70) scale(1 1.100)" font-size="13.00" fill="#fff">0</text><text transform="translate(318.00 48.70) scale(1 1.100)" font-size="13.00" fill="#fff" text-anchor="end">25</text><text transform="translate(37.30 48.70) scale(1 1.100)" font-size="13.00" fill="#fff" text-anchor="end">25</text><text transform="translate(318.00 96.90) scale(1 1.100)" font-size="13.00" fill="#fff" text-anchor="end">20</text><text transform="translate(37.30 96.90) scale(1 1.100)" font-size="13.00" fill="#fff" text-anchor="end">20</text><text transform="translate(318.00 145.10) scale(1 1.100)" font-size="13.00" fill="#fff" text-anchor="end">15</text><text transform="translate(37.30 145.10) scale(1 1.100)" font-size="13.00" fill="#fff" text-anchor="end">15</text><text transform="translate(318.00 193.30) scale(1 1.100)" font-size="13.00" fill="#fff" text-anchor="end">10</text><text transform="translate(37.30 193.30) scale(1 1.100)" font-size="13.00" fill="#fff" text-anchor="end">10</text><text transform="translate(318.00 241.50) scale(1 1.100)" font-size="13.00" fill="#fff" text-anchor="end">5</text><text transform="translate(37.30 241.50) scale(1 1.100)" font-size="13.00" fill="#fff" text-anchor="end">5</text><text transform="translate(318.00 289.70) scale(1 1.100)" font-size="13.00" fill="#fff" text-anchor="end">0</text><text transform="translate(37.30 289.70) scale(1 1.100)" font-size="13.00" fill="#fff" text-anchor="end">0</text><text transform="translate(180.75 16.00) scale(1 1.080)" font-size="16.70" fill="#000" text-anchor="middle">10.1 (Tile101=101) X</text><text transform="translate(461.60 16.00) scale(1 1.080)" font-size="16.70" fill="#000" text-anchor="middle">10.1 (Tile101=101) Y</text><line x1="49.30" y1="408.3" x2="49.30" y2="413.5" stroke="#000" stroke-width="0.9"/><text transform="translate(48.50 425.80) scale(1 1.100)" font-size="9.30" fill="#000" text-anchor="middle">0</text><line x1="89.98" y1="408.3" x2="89.98" y2="413.5" stroke="#000" stroke-width="0.9"/><text transform="translate(89.19 425.80) scale(1 1.100)" font-size="9.30" fill="#000" text-anchor="middle">50</text><line x1="130.67" y1="408.3" x2="130.67" y2="413.5" stroke="#000" stroke-width="0.9"/><text transform="translate(129.87 425.80) scale(1 1.100)" font-size="9.30" fill="#000" text-anchor="middle">100</text><line x1="171.35" y1="408.3" x2="171.35" y2="413.5" stroke="#000" stroke-width="0.9"/><text transform="translate(170.55 425.80) scale(1 1.100)" font-size="9.30" fill="#000" text-anchor="middle">150</text><line x1="212.04" y1="408.3" x2="212.04" y2="413.5" stroke="#000" stroke-width="0.9"/><text transform="translate(211.24 425.80) scale(1 1.100)" font-size="9.30" fill="#000" text-anchor="middle">200</text><line x1="252.72" y1="408.3" x2="252.72" y2="413.5" stroke="#000" stroke-width="0.9"/><text transform="translate(251.92 425.80) scale(1 1.100)" font-size="9.30" fill="#000" text-anchor="middle">250</text><line x1="293.41" y1="408.3" x2="293.41" y2="413.5" stroke="#000" stroke-width="0.9"/><text transform="translate(292.61 425.80) scale(1 1.100)" font-size="9.30" fill="#000" text-anchor="middle">300</text><line x1="329.30" y1="408.3" x2="329.30" y2="413.5" stroke="#000" stroke-width="0.9"/><text transform="translate(328.50 425.80) scale(1 1.100)" font-size="9.30" fill="#000" text-anchor="middle">0</text><line x1="369.99" y1="408.3" x2="369.99" y2="413.5" stroke="#000" stroke-width="0.9"/><text transform="translate(369.19 425.80) scale(1 1.100)" font-size="9.30" fill="#000" text-anchor="middle">50</text><line x1="410.67" y1="408.3" x2="410.67" y2="413.5" stroke="#000" stroke-width="0.9"/><text transform="translate(409.87 425.80) scale(1 1.100)" font-size="9.30" fill="#000" text-anchor="middle">100</text><line x1="451.36" y1="408.3" x2="451.36" y2="413.5" stroke="#000" stroke-width="0.9"/><text transform="translate(450.56 425.80) scale(1 1.100)" font-size="9.30" fill="#000" text-anchor="middle">150</text><line x1="492.04" y1="408.3" x2="492.04" y2="413.5" stroke="#000" stroke-width="0.9"/><text transform="translate(491.24 425.80) scale(1 1.100)" font-size="9.30" fill="#000" text-anchor="middle">200</text><line x1="532.73" y1="408.3" x2="532.73" y2="413.5" stroke="#000" stroke-width="0.9"/><text transform="translate(531.93 425.80) scale(1 1.100)" font-size="9.30" fill="#000" text-anchor="middle">250</text><line x1="573.41" y1="408.3" x2="573.41" y2="413.5" stroke="#000" stroke-width="0.9"/><text transform="translate(572.61 425.80) scale(1 1.100)" font-size="9.30" fill="#000" text-anchor="middle">300</text></svg></body></html>
